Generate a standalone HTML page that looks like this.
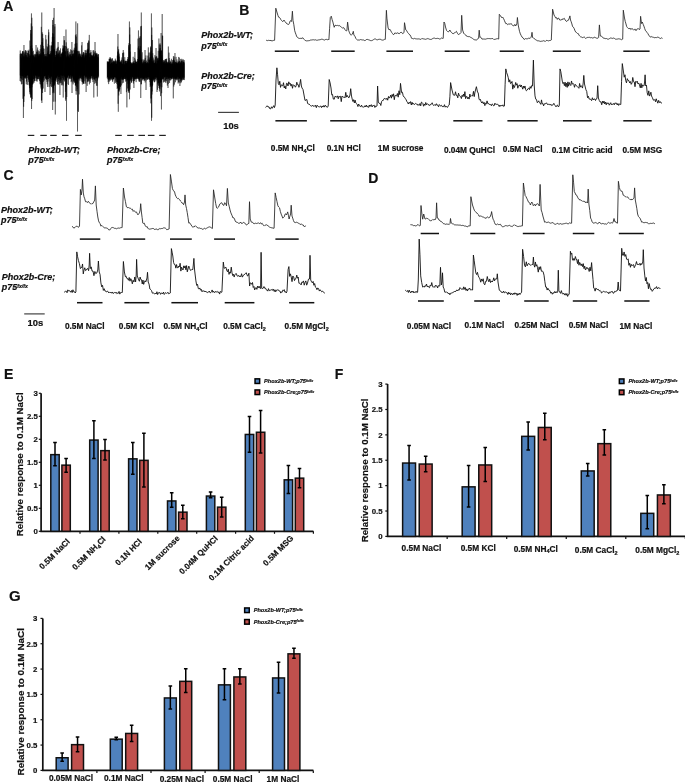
<!DOCTYPE html>
<html><head><meta charset="utf-8"><style>
html,body{margin:0;padding:0;background:#fff;}
svg{display:block;}
text{font-family:"Liberation Sans",sans-serif;font-weight:bold;fill:#111;stroke:#111;stroke-width:0.2px;}
</style></head><body>
<svg width="685" height="783" viewBox="0 0 685 783">
<rect width="685" height="783" fill="#fff"/>
<path d="M266.1 40.3 L266.88 40.37 L267.66 40.64 L268.44 40.34 L269.22 40.44 L270 40.5 L271 40.45 L272 41 L272.87 40.63 L273.73 40.35 L274.6 40.3 L275.8 8.2 L276.6 11 L277.9 15.3 L278.6 17.18 L279.3 17.3 L280 18 L280.83 19.74 L281.67 20.48 L282.5 21.5 L283.25 21.25 L284 20.05 L284.75 21.49 L285.5 22 L286.27 23.14 L287.05 24.06 L287.83 24.12 L288.6 24.5 L289.35 23.48 L290.1 21.06 L290.85 20.65 L291.6 21.5 L292.4 11.2 L293 20.4 L293.85 24.78 L294.7 30.7 L295.4 32.92 L296.1 34.77 L296.8 36.8 L297.8 37.59 L298.8 38.3 L299.53 38.44 L300.27 38.32 L301 38.5 L301.95 38.25 L302.9 37.8 L303.6 38.9 L304.3 39.48 L305 40.4 L305.71 40.62 L306.43 40.87 L307.14 41.04 L307.86 40.6 L308.57 40.71 L309.29 40.6 L310 40.54 L310.71 39.96 L311.43 40 L312.14 39.76 L312.86 39.93 L313.57 39.78 L314.29 39.96 L315 40 L315.71 39.79 L316.42 40.21 L317.13 40.18 L317.84 40.16 L318.55 39.9 L319.26 39.87 L319.97 39.61 L320.68 39.55 L321.39 39.24 L322.11 39.37 L322.82 39.34 L323.53 39.74 L324.24 40.02 L324.95 40.03 L325.66 39.41 L326.37 39.38 L327.08 39.49 L327.79 39.81 L328.5 39.5 L328.9 39.8 L329.6 28.26 L330.3 17.5 L331.3 16.2 L332.1 19.56 L332.9 22.1 L334.2 27.3 L335.02 25.24 L335.85 25.43 L336.68 25.59 L337.5 25.4 L338.32 25.78 L339.15 25.44 L339.98 25.99 L340.8 26.7 L341.58 27.36 L342.36 28.02 L343.14 27.58 L343.92 27.83 L344.7 29.3 L345.43 30.13 L346.17 30.98 L346.9 30.6 L347.6 22.1 L348.7 30.6 L349.57 32.86 L350.43 34.59 L351.3 35.2 L352.05 34.26 L352.8 33 L353.3 31.3 L353.9 35 L354.9 36.26 L355.9 38.5 L356.7 39.3 L357.5 40.2 L358.24 40.02 L358.97 39.98 L359.71 40 L360.44 39.57 L361.18 39.81 L361.91 39.73 L362.65 39.97 L363.38 39.92 L364.12 40.38 L364.85 40.57 L365.59 40.35 L366.32 39.49 L367.06 39.52 L367.79 39.45 L368.53 39.78 L369.26 40.05 L370 40.2 L370.73 40.71 L371.46 40.66 L372.19 40.48 L372.91 40.07 L373.64 39.53 L374.37 39.06 L375.1 39.09 L375.83 39.03 L376.56 39.68 L377.29 39.84 L378.01 39.67 L378.74 39.33 L379.47 39.27 L380.2 39.18 L380.93 39.65 L381.66 39.93 L382.39 40.12 L383.11 39.99 L383.84 39.85 L384.57 39.37 L385.3 39.4 L386.4 10.3 L386.9 18.1 L388.1 28 L389.05 29.91 L390 29.3 L390.82 30.86 L391.65 32.43 L392.48 33.5 L393.3 34.6 L394.1 34.28 L394.9 32.89 L395.7 33.24 L396.5 33.56 L397.3 32.6 L398.04 33.62 L398.79 33.31 L399.53 33.58 L400.27 32.62 L401.01 32.27 L401.76 32.47 L402.5 33.6 L403.25 33.18 L404 32.6 L404.5 22.7 L405.8 30 L406.67 30.62 L407.53 32.34 L408.4 33.3 L409.2 34.38 L410 34.85 L410.8 36.4 L411.6 38.34 L412.4 38.5 L413.1 38.79 L413.8 38.81 L414.5 38.38 L415.2 38.75 L415.9 38.72 L416.6 38.92 L417.3 38.93 L418 39.05 L418.7 38.85 L419.4 39.01 L420.1 39.15 L420.8 39.44 L421.5 38.73 L422.2 38.67 L422.9 38.62 L423.6 38.91 L424.3 39.05 L425 39 L425.7 39.34 L426.4 39.03 L427.1 38.86 L427.8 38.49 L428.5 38.77 L429.2 39.04 L429.9 39.43 L430.6 39.43 L431.3 39.42 L432 38.9 L432.7 38.56 L433.4 38.24 L434.1 38.02 L434.8 38.22 L435.5 38.57 L436.2 38.45 L436.9 38.61 L437.6 38.34 L438.3 38.53 L439 38.47 L439.7 39.12 L440.4 38.86 L441.1 38.4 L441.8 37.89 L442.5 38.4 L443.2 38.4 L444 22 L444.75 23.43 L445.5 27 L446.6 30.6 L447.55 31.49 L448.5 31.9 L449.9 30 L450.7 31.73 L451.5 32.32 L452.3 33.33 L453.1 33.9 L453.93 33.14 L454.75 32.85 L455.57 31.97 L456.4 31.3 L457.4 33.25 L458.4 34.6 L459.27 34.01 L460.13 33.64 L461 32.6 L461.7 15.3 L462.6 30 L463.7 33.3 L464.44 34.1 L465.19 34.78 L465.93 35.04 L466.67 36.25 L467.41 36.43 L468.16 36.69 L468.9 36.5 L469.64 36.68 L470.38 37.23 L471.11 37.49 L471.85 38 L472.59 38.47 L473.32 39.1 L474.06 39.65 L474.8 39.8 L475.8 39.94 L476.8 39.9 L477.7 39.09 L478.6 38 L479.2 30.2 L479.9 37.5 L480.6 37.16 L481.3 37.74 L482 39.2 L482.73 38.99 L483.45 39.04 L484.18 39.16 L484.91 38.99 L485.64 39.17 L486.36 38.86 L487.09 38.86 L487.82 38.43 L488.55 38.59 L489.27 38.64 L490 38.5 L490.75 38.77 L491.49 38.61 L492.24 38.52 L492.98 38.62 L493.73 39.43 L494.47 39.42 L495.22 39.36 L495.96 38.85 L496.71 38.82 L497.45 38.66 L498.2 39 L498.7 39 L499.3 14.3 L500.03 15.39 L500.77 15.99 L501.5 17.5 L502.2 17.75 L502.9 17.24 L503.6 18.67 L504.3 20.24 L505 22 L505.9 23.76 L506.8 23.55 L507.7 24.7 L508.52 24.02 L509.35 23.96 L510.18 24.35 L511 23.4 L511.77 24.63 L512.53 25.31 L513.3 25.73 L514.07 25.8 L514.83 24.36 L515.6 26 L516.9 24 L517.4 17.5 L518.2 25 L519.5 31.3 L520.37 33.9 L521.23 35.61 L522.1 37.2 L523.05 37.84 L524 39.4 L524.75 39.21 L525.5 38.59 L526.25 38.66 L527 39.24 L527.75 38.55 L528.5 38.23 L529.25 38.23 L530 38.5 L530.75 37.66 L531.5 36 L532 32.3 L532.6 37.5 L533.37 37.79 L534.14 38.68 L534.91 39.03 L535.69 39.78 L536.46 40.19 L537.23 40.7 L538 40.9 L538.74 40.83 L539.47 41.09 L540.21 41.31 L540.94 41.53 L541.68 41.17 L542.41 41.13 L543.15 40.66 L543.88 40.85 L544.62 41.12 L545.35 41.44 L546.09 40.57 L546.82 40.38 L547.56 40.59 L548.29 40.92 L549.03 40.63 L549.76 40.5 L550.5 40.5 L551.3 40 L552.6 9.2 L554 15 L554.83 16.38 L555.65 17.91 L556.47 17.59 L557.3 19.4 L558.08 18.03 L558.87 18.3 L559.65 19.99 L560.43 20.08 L561.22 19.59 L562 20 L562.79 18.69 L563.57 18.94 L564.36 18.37 L565.14 19.99 L565.93 20.95 L566.71 21.54 L567.5 20.4 L568.4 20.25 L569.3 18 L569.9 15.9 L570.5 20 L571.2 21.78 L571.9 23.97 L572.6 26.6 L573.42 27.17 L574.24 28.69 L575.06 30.9 L575.88 32.25 L576.7 32.7 L577.46 33.45 L578.23 33.52 L578.99 35.13 L579.75 36.08 L580.51 36.77 L581.27 36.95 L582.04 37.35 L582.8 37.8 L583.52 37.02 L584.24 36.92 L584.96 37.62 L585.68 38.54 L586.4 37.8 L587.12 37.71 L587.84 37.29 L588.56 37.42 L589.28 37.28 L590 37.5 L590.72 37.81 L591.43 37.58 L592.15 37.93 L592.87 38.06 L593.58 37.94 L594.3 37.09 L595.02 37.4 L595.73 37.77 L596.45 38.15 L597.17 38.06 L597.88 38.3 L598.6 37.5 L599.4 24.9 L600.3 36 L601.08 36.12 L601.87 36.54 L602.65 37.14 L603.43 38.23 L604.22 38.24 L605 38.5 L605.72 38.63 L606.44 38.51 L607.16 38.94 L607.88 39.13 L608.6 39.13 L609.33 38.67 L610.05 38.35 L610.77 37.91 L611.49 38.15 L612.21 38.31 L612.93 38.51 L613.65 38.01 L614.37 38.38 L615.09 38.79 L615.81 39.32 L616.53 39.18 L617.25 39.12 L617.97 38.86 L618.7 38.8 L619.42 38.91 L620.14 39.16 L620.86 39.24 L621.58 39.71 L622.3 39.2 L622.7 39.2 L623.3 10.2 L624.5 18 L625.23 21.36 L625.97 23.93 L626.7 26.6 L627.53 27.66 L628.35 28.5 L629.17 28.77 L630 28 L630.75 29.54 L631.5 28.85 L632.25 28.69 L633 29.29 L633.75 30.18 L634.5 29.31 L635.25 29.2 L636 30.7 L636.8 29.25 L637.6 28.83 L638.4 28.58 L639.2 29.61 L640 29 L640.6 16.3 L641.5 23.5 L642.3 22 L643.1 24.2 L643.9 26.1 L644.7 28.56 L645.5 30.7 L646.3 31.32 L647.1 32.62 L647.9 33.59 L648.7 35.15 L649.5 36 L650.29 37.1 L651.07 36.93 L651.86 36.54 L652.64 37.16 L653.43 37.3 L654.21 37.75 L655 37.5 L655.75 37.56 L656.5 37.6 L657.25 37.1 L658 37.46 L658.75 37.41 L659.5 38.02 L660.25 38.46 L661 38.42 L661.75 37.71 L662.5 38.4" fill="none" stroke="#262626" stroke-width="0.85" stroke-linejoin="round"/>
<path d="M265.6 107.5 L266.4 106.48 L267.2 105.75 L268 107 L269 106.85 L270 109 L270.75 108.7 L271.5 106.78 L272.25 108.31 L273 107 L273.73 105.65 L274.47 107.57 L275.2 105 L276 80 L276.9 67.8 L277.6 74.79 L278.3 83.5 L279.04 84.82 L279.78 81.26 L280.52 87.38 L281.26 84.84 L282 85.5 L282.75 85.89 L283.5 82.71 L284.25 87.99 L285 85.99 L285.75 88.94 L286.5 83.31 L287.25 83.46 L288 86 L288.75 81.84 L289.5 84.22 L290.25 83.29 L291 86.1 L291.75 84.24 L292.5 88.29 L293.25 84.7 L294 85.5 L294.7 85.71 L295.4 87.21 L296.1 85.93 L296.8 82.21 L297.5 84.67 L298.2 84.59 L298.9 87.33 L299.6 85.5 L300.6 79.4 L301.4 86 L302 88 L303 89.54 L304 95 L305 100.44 L306 100 L306.83 99.45 L307.67 103.6 L308.5 104 L309.2 104.12 L309.9 105.05 L310.6 105.66 L311.3 106.14 L312 106 L312.73 105.24 L313.45 106.42 L314.18 105.65 L314.91 106.41 L315.64 105.26 L316.36 107.66 L317.09 105.23 L317.82 105.86 L318.55 106.78 L319.27 106.98 L320 106.5 L320.75 105.98 L321.49 107.6 L322.24 105.91 L322.98 107.09 L323.73 105.52 L324.47 107.1 L325.22 105.17 L325.96 105.98 L326.71 107.07 L327.45 107.29 L328.2 106 L329.2 79.5 L330.1 82.83 L331 88 L331.77 94.9 L332.53 94.42 L333.3 99 L334.2 99.3 L335.1 96.16 L336 97 L336.75 97.1 L337.5 95.86 L338.25 98.81 L339 96.14 L339.75 96.8 L340.5 96.32 L341.25 101.63 L342 96 L342.75 96.72 L343.5 97.22 L344.25 96.98 L345 97.85 L345.75 92.34 L346.5 97.13 L347.25 95.39 L348 97 L349 97.77 L350 95 L350.7 88.7 L351.5 96 L352.22 99.16 L352.93 101.49 L353.65 99.65 L354.37 102.91 L355.08 100.06 L355.8 103 L356.51 103.55 L357.22 104.62 L357.93 106.59 L358.64 104.03 L359.35 105.27 L360.06 106.27 L360.77 107.06 L361.48 105.1 L362.19 106.55 L362.9 107.1 L363.61 107.07 L364.32 106.89 L365.03 105.64 L365.74 106.89 L366.45 105.08 L367.16 107.01 L367.87 106.5 L368.58 107.46 L369.29 104.99 L370 106.5 L370.7 105.15 L371.4 104.71 L372.1 106.99 L372.8 105.52 L373.5 105.54 L374.2 105.15 L374.9 107.47 L375.6 105.99 L376.3 106.34 L377 106 L377.6 86 L378.3 102 L379.3 103.5 L380.06 103.25 L380.82 105.5 L381.59 101.55 L382.35 100.5 L383.11 100.61 L383.88 98.96 L384.64 98.19 L385.4 99 L386.17 99.59 L386.93 98.11 L387.7 100.2 L388.47 96.47 L389.23 98.11 L390 97 L390.71 95.1 L391.43 98.16 L392.14 94.47 L392.86 96.47 L393.57 93.81 L394.29 99.69 L395 95.5 L395.8 95.55 L396.6 95.91 L397.4 93.51 L398.2 97.17 L399 90.76 L399.8 94.7 L400.5 83.4 L401.6 92.7 L402.4 92.21 L403.2 95.8 L404 97 L404.73 97.5 L405.45 98.79 L406.17 99.82 L406.9 101.6 L407.64 102.72 L408.37 104.03 L409.11 102.2 L409.85 103.33 L410.58 101.58 L411.32 105.01 L412.05 102.25 L412.79 104.29 L413.53 103.44 L414.26 104.57 L415 104 L415.71 103.41 L416.43 104.07 L417.14 103.98 L417.86 105.44 L418.57 104.76 L419.29 105.31 L420 103.47 L420.71 105.85 L421.43 102.12 L422.14 102.57 L422.86 103.48 L423.57 106.22 L424.29 104.02 L425 105.37 L425.71 102.5 L426.43 104.83 L427.14 103.54 L427.86 104.43 L428.57 104.49 L429.29 105.66 L430 104.5 L430.71 104.92 L431.43 103.54 L432.14 102.75 L432.86 104.53 L433.57 105.45 L434.29 105.27 L435 104.49 L435.71 105.53 L436.43 103.73 L437.14 105.08 L437.86 105.31 L438.57 106.82 L439.29 104.52 L440 105.5 L440.74 105.98 L441.49 105.26 L442.23 106.68 L442.98 106.42 L443.72 106.69 L444.47 104.69 L445.21 107.19 L445.96 106.14 L446.7 107 L447.53 107.4 L448.37 105.66 L449.2 105 L449.9 96.77 L450.6 82.6 L452 90 L453.3 94.9 L454.04 95.21 L454.79 95.23 L455.53 91.78 L456.28 95.37 L457.02 95.28 L457.77 97.83 L458.51 93.13 L459.26 95.61 L460 95.9 L460.7 96.67 L461.4 98.56 L462.1 95.28 L462.8 96.6 L463.5 94 L464.2 96.55 L464.9 91.63 L465.6 98.61 L466.3 96.63 L467 96.5 L467.71 98.84 L468.43 97.37 L469.14 99.08 L469.85 94.05 L470.56 96.74 L471.27 96.15 L471.99 95.37 L472.7 96 L473.47 91.33 L474.23 96.61 L475 92 L476.4 86.7 L477.5 92 L478.25 93.04 L479 99 L479.73 100.15 L480.45 99.4 L481.17 102.03 L481.9 103 L482.64 101.68 L483.37 103.81 L484.11 102.35 L484.85 105.65 L485.58 103.22 L486.32 103.93 L487.05 100.89 L487.79 103.61 L488.53 103.4 L489.26 104.59 L490 104 L490.7 104.72 L491.4 105.74 L492.1 103.86 L492.8 104.47 L493.5 105.79 L494.2 105.62 L494.9 103.18 L495.6 104.3 L496.3 104.29 L497 104.5 L497.74 104.34 L498.48 104.87 L499.22 106.58 L499.96 105.01 L500.7 106.26 L501.44 105.48 L502.18 105.89 L502.92 104.82 L503.66 106.51 L504.4 106 L505.1 84.75 L505.8 68.9 L506.65 72.64 L507.5 75 L508.25 77.63 L509 82.09 L509.75 79.78 L510.5 83.6 L511.25 83.08 L512 81.44 L512.75 89.15 L513.5 84.8 L514.25 87.67 L515 85.7 L515.7 82.43 L516.4 85.13 L517.1 83.68 L517.8 88.24 L518.5 85.73 L519.2 85.88 L519.9 84.75 L520.6 87.01 L521.3 85.01 L522 87 L522.74 89.17 L523.48 86.06 L524.21 88.17 L524.95 85.98 L525.69 89.65 L526.42 90.84 L527.16 90.11 L527.9 88.7 L528.67 88.21 L529.43 89.58 L530.2 86.62 L530.97 88.3 L531.73 85.52 L532.5 86 L533.4 60.1 L534.2 85 L535 95.9 L535.75 99.23 L536.5 99.55 L537.25 102.67 L538 102 L538.7 100.82 L539.4 102.59 L540.1 103.08 L540.8 104.39 L541.5 99.89 L542.2 103.88 L542.9 103.45 L543.6 105.89 L544.3 103.89 L545 103.5 L545.74 103.78 L546.47 102.78 L547.21 104 L547.94 104.84 L548.68 104.02 L549.41 104.28 L550.15 105.14 L550.88 104.18 L551.62 105.55 L552.35 105.13 L553.09 104.89 L553.82 103.3 L554.56 104.58 L555.29 105.73 L556.03 106.87 L556.76 105.54 L557.5 105 L558.4 106.98 L559.3 105.5 L560 68.9 L560.75 71.4 L561.5 76 L562.25 81.07 L563 83.6 L563.7 82.44 L564.4 85.62 L565.1 82.12 L565.8 86.62 L566.5 83.23 L567.2 87.41 L567.9 81.88 L568.6 86.16 L569.3 82.52 L570 84.6 L570.75 85.53 L571.5 80.98 L572.25 84.31 L573 83.35 L573.75 84.28 L574.5 87.29 L575.25 84.32 L576 85.5 L576.73 86.03 L577.45 86.61 L578.17 87.38 L578.9 88.3 L579.62 83.47 L580.35 87.16 L581.07 85.58 L581.8 86.7 L582.5 88.08 L583.2 83 L583.8 75.4 L584.5 84 L585.9 89.7 L586.72 91.44 L587.54 97.73 L588.36 96.22 L589.18 99.09 L590 99 L590.8 99.43 L591.6 100.63 L592.4 97.74 L593.2 99.99 L594 99 L594.75 98.95 L595.5 100.5 L596.25 98.76 L597 98.5 L597.7 85.7 L598.4 98 L599.3 100.51 L600.2 102 L600.95 101.75 L601.71 104.76 L602.46 101.17 L603.22 103.1 L603.97 101.07 L604.72 103.97 L605.48 102.07 L606.23 104.81 L606.98 102.63 L607.74 103.65 L608.49 102.87 L609.25 105.18 L610 104 L610.72 102.69 L611.44 104.77 L612.16 103.98 L612.88 104.56 L613.6 103.47 L614.32 104.79 L615.04 102.79 L615.76 103.41 L616.48 103.17 L617.2 104.96 L617.92 103.46 L618.64 105.42 L619.36 103.92 L620.08 104.32 L620.8 104.5 L621.55 81.69 L622.3 63.6 L623.5 72 L624.23 77.2 L624.97 74.77 L625.7 80.5 L626.49 82.86 L627.28 78.63 L628.06 80.45 L628.85 80.58 L629.64 82.9 L630.42 81.54 L631.21 84.35 L632 83 L632.75 77.46 L633.5 81.59 L634.25 81.93 L635 86.71 L635.75 81.32 L636.5 82.29 L637.25 81.21 L638 84 L638.76 83.06 L639.52 85 L640.29 87.86 L641.05 83.36 L641.81 87.86 L642.58 84.84 L643.34 85.98 L644.1 85.7 L644.6 82 L645.1 74.8 L645.7 86 L646.45 85.15 L647.2 92.8 L647.98 95.36 L648.75 90.85 L649.52 96.09 L650.3 94.5 L650.9 92.2 L651.5 96 L652.4 97.63 L653.3 100 L654.04 100.25 L654.78 99.5 L655.52 101.77 L656.26 98.81 L657 101 L657.82 103.18 L658.63 100.35 L659.45 102.55 L660.27 101.64 L661.08 103.06 L661.9 103" fill="none" stroke="#111" stroke-width="0.9" stroke-linejoin="round"/>
<rect x="274.8" y="50.45" width="24.2" height="1.5" fill="#111"/>
<rect x="331.2" y="50.45" width="23.5" height="1.5" fill="#111"/>
<rect x="386.4" y="50.45" width="26.6" height="1.5" fill="#111"/>
<rect x="444.7" y="50.45" width="24.9" height="1.5" fill="#111"/>
<rect x="499.7" y="50.45" width="24.1" height="1.5" fill="#111"/>
<rect x="552.8" y="50.45" width="28" height="1.5" fill="#111"/>
<rect x="623.3" y="50.45" width="26.3" height="1.5" fill="#111"/>
<rect x="275.4" y="120.05" width="31.5" height="1.5" fill="#111"/>
<rect x="330.2" y="120.05" width="26.6" height="1.5" fill="#111"/>
<rect x="379.3" y="120.05" width="27.6" height="1.5" fill="#111"/>
<rect x="453.3" y="120.05" width="29.2" height="1.5" fill="#111"/>
<rect x="507.4" y="120.05" width="30.3" height="1.5" fill="#111"/>
<rect x="563" y="120.05" width="28.6" height="1.5" fill="#111"/>
<rect x="623.3" y="120.05" width="28.4" height="1.5" fill="#111"/>
<path d="M72.3 226.2 L73.2 227.66 L74.1 227.91 L75 227.5 L75.75 226.54 L76.5 226.29 L77.25 226.3 L78 227.29 L78.75 227.07 L79.5 226 L80.4 189.4 L81.2 195 L82 190 L82.5 179.2 L83.3 193 L84.03 196.81 L84.77 198.8 L85.5 201.7 L86.2 201.66 L86.9 201.93 L87.6 202.53 L88.3 201.27 L89 202.5 L89.74 202.96 L90.48 203.53 L91.22 204.2 L91.96 203.45 L92.7 203.7 L93.7 202 L94.7 200 L95.4 185.9 L96.2 205 L97 211.29 L97.8 217 L98.58 220.86 L99.35 222.74 L100.12 223.48 L100.9 226.2 L101.72 225.43 L102.54 226.28 L103.36 226.96 L104.18 227.7 L105 228 L105.75 227.83 L106.5 228 L107.25 228.13 L108 228.9 L108.7 229.85 L109.4 229.89 L110.1 229.75 L110.8 228.41 L111.5 227.73 L112.2 227.4 L112.9 227.67 L113.6 227.77 L114.3 228.36 L115 228 L115.79 228.52 L116.58 228.77 L117.36 228.34 L118.15 228.23 L118.94 227.83 L119.72 228.22 L120.51 227.75 L121.3 227.6 L122.1 227.6 L123.4 188 L124.5 197 L125.45 201.59 L126.4 206.8 L127.12 207.05 L127.84 207.92 L128.56 207.57 L129.28 208.06 L130 208 L130.8 208.55 L131.6 209.33 L132.4 209.15 L133.2 211.39 L134 210.5 L134.78 211.6 L135.57 212.14 L136.35 211.89 L137.13 213.34 L137.92 214.87 L138.7 213.9 L139.45 212.91 L140.2 210 L140.7 203.7 L141.4 212 L142.1 217.47 L142.8 223.1 L143.53 223.47 L144.26 223.15 L144.99 225.13 L145.71 226.48 L146.44 226.79 L147.17 226.6 L147.9 228.2 L148.61 229 L149.32 229.12 L150.03 229.21 L150.74 228.89 L151.45 228.77 L152.16 228.49 L152.87 228.54 L153.58 228.56 L154.29 229.43 L155 229.3 L155.7 229.23 L156.4 229.01 L157.1 229.31 L157.8 230.12 L158.5 229.13 L159.2 228.87 L159.9 228.42 L160.6 228.77 L161.3 228.55 L162 228.5 L162.7 228.42 L163.4 227.9 L164.1 228.16 L164.8 227.75 L165.5 228.22 L166.2 228.85 L166.9 229.84 L167.6 229.5 L168.3 229.3 L169.1 229 L170.4 174.5 L171.4 181.08 L172.4 188.4 L173.13 190.29 L173.86 190.89 L174.59 192.03 L175.31 194.96 L176.04 196.48 L176.77 197.91 L177.5 198.6 L178.26 198.33 L179.03 199.09 L179.79 199.86 L180.55 201.14 L181.31 201.87 L182.07 203.17 L182.84 203.23 L183.6 204.7 L184.5 202 L185 194.9 L185.7 205 L186.47 208.43 L187.25 212.68 L188.03 217.65 L188.8 223.1 L189.6 222.71 L190.4 224.04 L191.2 224.96 L192 226.5 L192.7 227 L193.4 226.86 L194.1 227 L194.8 225.97 L195.5 225.85 L196.2 226.55 L196.9 227.2 L198.2 228.2 L198.96 227.77 L199.71 228.1 L200.47 228.46 L201.22 228.31 L201.98 229.23 L202.73 229.21 L203.49 228.96 L204.24 228.26 L205 228.5 L205.73 228.94 L206.47 228.29 L207.2 228.01 L207.93 227.29 L208.67 227.14 L209.4 226.85 L210.13 227.1 L210.87 227.41 L211.6 228 L212.4 228.5 L213.5 189.8 L214.8 198 L215.7 203.54 L216.6 207.8 L217.4 208.25 L218.2 207.47 L219 206 L219.9 203.89 L220.8 203.18 L221.7 202.7 L223 205 L223.85 205.42 L224.7 202.7 L225.6 203.52 L226.5 205.8 L227.4 188.4 L228.3 203 L229.17 206.17 L230.03 209.98 L230.9 212.9 L231.95 215.27 L233 218 L233.75 217.74 L234.5 218.88 L235.25 221.12 L236 222.1 L236.8 222.16 L237.6 222.52 L238.4 223.21 L239.2 223.26 L240 223 L240.73 222.05 L241.47 223.48 L242.2 223.42 L242.93 222.88 L243.67 222.22 L244.4 223.07 L245.13 223.29 L245.87 224.6 L246.6 224.89 L247.33 224.55 L248.07 223.5 L248.8 223.5 L249.5 201.7 L250.2 219 L251.3 222.1 L252.03 222.24 L252.76 222.35 L253.49 223.53 L254.21 223.47 L254.94 223.79 L255.67 223.14 L256.4 223.51 L257.13 223.19 L257.86 223.25 L258.59 222.82 L259.31 223.68 L260.04 223.35 L260.77 222.75 L261.5 224 L262.22 223.35 L262.94 224.78 L263.67 225.35 L264.39 226.07 L265.11 225.24 L265.83 224.92 L266.56 224.79 L267.28 225.1 L268 226 L268.8 226.39 L269.6 227.14 L270.4 227.43 L271.2 227.89 L272 227.46 L272.8 228.2 L274.1 228.2 L275.2 192.9 L276.1 197.4 L277 201.61 L277.9 205.8 L278.72 207.03 L279.54 207.81 L280.36 211.46 L281.18 214.13 L282 216 L282.75 218.11 L283.5 217.51 L284.25 216.75 L285 214.22 L285.75 213.83 L286.5 215 L287.7 211.9 L288.4 215.2 L289.1 219 L289.85 216.24 L290.6 214 L291.2 205.2 L292 216 L292.73 218.18 L293.47 220.56 L294.2 222.1 L294.93 222.58 L295.65 222.59 L296.38 222.23 L297.1 222.54 L297.82 222.73 L298.55 223.28 L299.27 223.46 L300 224.5 L300.79 224.27 L301.57 224.17 L302.36 224.82 L303.14 224.88 L303.93 226.16 L304.71 226.97 L305.5 225.6" fill="none" stroke="#222" stroke-width="0.85" stroke-linejoin="round"/>
<path d="M64.1 292.1 L64.84 291.91 L65.57 291.26 L66.31 291.27 L67.05 292.75 L67.79 289.85 L68.53 290.98 L69.26 290.69 L70 291 L70.74 292.22 L71.47 290.53 L72.21 292.54 L72.95 289.78 L73.69 291.75 L74.43 291.71 L75.16 292.99 L75.9 292 L76.8 251.9 L77.6 256.7 L78.4 260.4 L79.4 263.63 L80.4 268.6 L81.12 267.46 L81.84 267.52 L82.56 263.97 L83.28 273.88 L84 270 L84.77 267.78 L85.53 270.58 L86.3 270.15 L87.07 268.76 L87.83 268.52 L88.6 270.7 L89.2 265 L89.6 253.3 L90.3 268.6 L91.2 266.86 L92.1 271.12 L93 271 L93.93 275.69 L94.87 271.47 L95.8 273.7 L96.8 272.97 L97.8 270 L98.4 261 L99.2 272 L100.05 274.49 L100.9 282.9 L101.72 286.86 L102.54 285.31 L103.36 290.38 L104.18 288.7 L105 291.1 L105.74 290.97 L106.47 291.97 L107.21 291.3 L107.95 291.43 L108.68 292.86 L109.42 291.96 L110.15 292.77 L110.89 292.04 L111.63 293.19 L112.36 291.98 L113.1 293.5 L113.85 292.98 L114.59 292.51 L115.34 293.01 L116.08 292.11 L116.83 293.65 L117.57 293.18 L118.32 293.3 L119.06 291.41 L119.81 294.12 L120.55 292.59 L121.3 292.5 L122.3 292.5 L123.4 261.5 L124.4 271.99 L125.4 276.8 L126.16 276.26 L126.93 278.56 L127.69 278.62 L128.45 280.25 L129.21 277.48 L129.97 281.16 L130.74 278.64 L131.5 279.9 L132.32 283.84 L133.14 280.26 L133.96 281.96 L134.78 276.99 L135.6 281.9 L136.2 275 L136.6 259.4 L137.3 276 L138.7 279.9 L139.41 281.28 L140.12 277.05 L140.83 279.51 L141.54 279.69 L142.25 283.97 L142.96 280.05 L143.67 284.39 L144.38 282.22 L145.09 280.75 L145.8 281.9 L147 278 L147.5 272.3 L148.2 282 L149.05 284.13 L149.9 289 L150.72 289.67 L151.54 290.56 L152.36 293.19 L153.18 292.78 L154 293.5 L154.73 294 L155.45 293.04 L156.18 294.06 L156.91 291.74 L157.64 294.57 L158.36 292.83 L159.09 292.6 L159.82 292.53 L160.55 294.34 L161.27 293.09 L162 293 L162.75 293.87 L163.5 292.02 L164.25 294.48 L165 293.34 L165.75 292.64 L166.5 293.38 L167.25 292.93 L168 292.23 L168.75 293.87 L169.5 293.5 L170.3 293 L171.4 248.6 L172.1 252.15 L172.8 256 L173.6 262.56 L174.4 264.5 L175.12 264.67 L175.84 268.15 L176.56 264.55 L177.28 267.52 L178 268 L178.71 266.02 L179.43 266.78 L180.14 263.27 L180.86 271.1 L181.57 267.19 L182.29 268.8 L183 270 L183.71 265.85 L184.43 267.9 L185.14 265.82 L185.86 269.82 L186.57 265.59 L187.29 271.84 L188 269 L188.8 266.07 L189.6 268.47 L190.4 270.3 L191.2 270.24 L192 269.25 L192.8 269.6 L193.3 265 L193.9 258.4 L194.6 270 L195.9 280.9 L196.7 285.39 L197.5 284.28 L198.3 288.58 L199.1 289 L199.84 287.95 L200.57 290.22 L201.31 289.33 L202.05 291.79 L202.79 290.65 L203.53 291.02 L204.26 290.93 L205 292 L205.71 291.11 L206.43 292.08 L207.14 292.76 L207.86 292.17 L208.57 292.04 L209.29 291.09 L210 292.71 L210.71 292.7 L211.43 291.61 L212.14 289.93 L212.86 292.35 L213.57 291.19 L214.29 292.38 L215 292.5 L215.77 291.29 L216.53 292.16 L217.3 291.42 L218.07 292.63 L218.83 291.92 L219.6 294.08 L220.37 291.41 L221.13 292.3 L221.9 292.1 L222.6 276.96 L223.3 262.1 L224.15 268.26 L225 268 L225.9 267.16 L226.8 270.7 L227.54 271.8 L228.29 269.13 L229.03 274.38 L229.77 271.95 L230.51 273.19 L231.26 267.14 L232 272.7 L232.73 275.58 L233.45 274.26 L234.18 277.05 L234.91 274.43 L235.64 273.95 L236.36 273.58 L237.09 275.89 L237.82 276.19 L238.55 275.43 L239.27 276.78 L240 275.8 L240.8 276.8 L241.6 273.7 L242.4 277.13 L243.2 275.53 L244 275 L244.73 274.05 L245.47 273.57 L246.2 272.7 L247.5 276 L248.2 275.59 L248.9 273.18 L249.6 286.02 L250.3 282.9 L251.03 283.06 L251.76 284.33 L252.49 282.51 L253.21 287.48 L253.94 286.43 L254.67 289.94 L255.4 288 L256.14 287.42 L256.89 289.37 L257.63 286.12 L258.37 287.73 L259.11 286.21 L259.86 288.15 L260.6 288.5 L261.1 252.3 L261.7 288 L262.45 288.9 L263.21 287.97 L263.96 286.56 L264.72 288.27 L265.47 288.07 L266.23 289.71 L266.98 290.01 L267.74 291.13 L268.49 288.65 L269.25 290.62 L270 290.5 L270.71 290.06 L271.43 289.81 L272.14 289.18 L272.86 290.53 L273.57 289.25 L274.29 291.52 L275 289.78 L275.71 291.82 L276.43 290.12 L277.14 290.44 L277.86 289.52 L278.57 290.56 L279.29 290.85 L280 291 L280.7 293.12 L281.4 291.95 L282.1 292.28 L282.8 290.1 L283.5 290.55 L284.2 289.61 L284.9 292.14 L285.6 291.75 L286.3 292.94 L287 291.1 L288.1 269.6 L288.88 266.59 L289.65 276.38 L290.43 273.84 L291.2 276.8 L292.02 281.65 L292.84 275.97 L293.66 277.11 L294.48 280.62 L295.3 278.8 L296.03 278.42 L296.76 275.07 L297.49 278.22 L298.21 277.08 L298.94 283.28 L299.67 283.15 L300.4 284 L301.17 284.92 L301.93 281.94 L302.7 282.42 L303.47 280.92 L304.23 285.17 L305 282.5 L305.83 280.9 L306.67 285.18 L307.5 283 L308.5 279.1 L309.5 279 L310 255.3 L310.7 280 L311.6 281.9 L312.36 282.87 L313.12 281.42 L313.89 285.26 L314.65 283.53 L315.41 287.12 L316.18 287.78 L316.94 289.7 L317.7 288 L318.52 288.42 L319.35 291.07 L320.18 289.75 L321 291 L321.78 291.79 L322.56 291.08 L323.34 292.15 L324.12 292.81 L324.9 293.1" fill="none" stroke="#111" stroke-width="0.9" stroke-linejoin="round"/>
<rect x="79.8" y="238.35" width="20.5" height="1.5" fill="#111"/>
<rect x="123.4" y="238.35" width="21.8" height="1.5" fill="#111"/>
<rect x="170" y="238.35" width="21.8" height="1.5" fill="#111"/>
<rect x="214.1" y="238.35" width="20.9" height="1.5" fill="#111"/>
<rect x="275.4" y="238.35" width="23.3" height="1.5" fill="#111"/>
<rect x="77" y="301.95" width="25.5" height="1.5" fill="#111"/>
<rect x="124.4" y="301.95" width="24.9" height="1.5" fill="#111"/>
<rect x="171.4" y="301.95" width="26.6" height="1.5" fill="#111"/>
<rect x="224.7" y="301.95" width="29.7" height="1.5" fill="#111"/>
<rect x="289.1" y="301.95" width="25.2" height="1.5" fill="#111"/>
<path d="M410.4 224.7 L411.17 224.75 L411.93 224.82 L412.7 225.05 L413.47 225.64 L414.23 225.55 L415 225.5 L415.76 226.01 L416.51 225.64 L417.27 225.07 L418.03 224.38 L418.79 225.43 L419.54 225.77 L420.3 225.5 L421 205.5 L422 215 L422.7 219.2 L423.7 214 L425 219 L425.71 218.85 L426.43 218.29 L427.14 218.53 L427.86 218.56 L428.57 219.32 L429.29 220.03 L430 220.2 L430.71 221.17 L431.43 220.37 L432.14 220.16 L432.86 219.38 L433.57 219.79 L434.29 219.45 L435 220 L436 218 L436.6 202.8 L437.3 218 L438.15 218.23 L439 220.2 L439.77 220.24 L440.55 221.46 L441.32 221.56 L442.1 222.18 L442.88 223 L443.65 223.83 L444.43 223.82 L445.2 224.3 L446 224.23 L446.8 223.98 L447.6 224.21 L448.4 224.23 L449.2 224.5 L450 223.5 L450.5 218.5 L451.2 223 L451.96 223.42 L452.72 223.92 L453.48 224.01 L454.24 224.6 L455 225.3 L455.71 224.78 L456.43 224.98 L457.14 224.86 L457.86 225.09 L458.57 225.1 L459.29 225 L460 225.5 L460.75 225.09 L461.49 225.56 L462.24 225.31 L462.98 225.61 L463.73 225.58 L464.48 226.04 L465.22 225.95 L465.97 226.28 L466.72 226.53 L467.46 226.91 L468.21 225.99 L468.95 225.69 L469.7 225.9 L470.2 225.9 L470.9 196.7 L471.7 201.01 L472.5 205 L473.8 208.9 L474.56 210.73 L475.32 211.41 L476.09 212.5 L476.85 212.86 L477.61 213.9 L478.38 214.59 L479.14 216.29 L479.9 216.1 L480.66 216.01 L481.42 216.25 L482.19 216.63 L482.95 217.24 L483.71 217.15 L484.48 217.71 L485.24 217.92 L486 218.5 L486.8 217.27 L487.6 216.94 L488.4 217.71 L489.2 217.63 L490 217 L491.2 214 L491.6 211.6 L492.3 216 L493.05 219.13 L493.8 220.42 L494.55 222.72 L495.3 224.3 L496.05 224.79 L496.79 224.57 L497.54 223.98 L498.28 224.52 L499.03 224.62 L499.78 224.46 L500.52 224.32 L501.27 225.71 L502.02 226.38 L502.76 226.81 L503.51 226.63 L504.25 226.29 L505 225.9 L505.71 225.57 L506.43 225.73 L507.14 225.74 L507.86 226.17 L508.57 225.62 L509.29 225.32 L510 225.6 L510.71 226.2 L511.43 226.34 L512.14 226.7 L512.86 225.99 L513.57 225.23 L514.29 224.73 L515 225.5 L515.76 225.5 L516.51 225.95 L517.27 226.46 L518.02 226.26 L518.78 226.55 L519.53 226.22 L520.29 226.25 L521.04 225.91 L521.8 225.9 L522.4 225.9 L523.4 183 L524.3 189.61 L525.2 195.7 L525.98 196.54 L526.75 198.27 L527.52 199.76 L528.3 201.8 L529.01 202.13 L529.72 203.27 L530.43 205 L531.14 203.08 L531.85 202.04 L532.56 203.29 L533.27 205.69 L533.98 204.83 L534.69 204.43 L535.4 205.9 L536.18 204.17 L536.96 204.37 L537.74 203.63 L538.52 204.51 L539.3 206 L540.1 184.4 L541.2 210 L542.05 212.47 L542.9 216.07 L543.75 219 L544.6 222.2 L545.37 221.92 L546.14 221.99 L546.91 222.81 L547.69 222.23 L548.46 222.09 L549.23 222.49 L550 223.2 L550.71 223.16 L551.43 222.94 L552.14 222.86 L552.86 222.43 L553.57 223.41 L554.29 223.88 L555 224.4 L555.71 224.25 L556.43 224.06 L557.14 223.29 L557.86 223.47 L558.57 224 L559.29 224.16 L560 223.5 L560.74 223.69 L561.49 224.11 L562.23 224 L562.97 224.14 L563.71 223.7 L564.46 223.61 L565.2 223.33 L565.94 223.32 L566.69 223.03 L567.43 223.81 L568.17 223.88 L568.91 223.4 L569.66 222.81 L570.4 223.2 L571.6 223.2 L572.8 174.8 L573.55 182.18 L574.3 191.6 L575.12 193.02 L575.94 194.98 L576.76 195.34 L577.58 197.21 L578.4 198.7 L579.11 199.04 L579.82 200.16 L580.53 199.92 L581.24 200.51 L581.95 200.59 L582.66 201.39 L583.37 201.25 L584.08 201.64 L584.79 201.29 L585.5 202.8 L586.2 202.11 L586.9 202.2 L587.6 203 L588.2 189.1 L588.9 204 L589.75 210.44 L590.6 218.1 L591.38 219.52 L592.15 221.91 L592.93 222.82 L593.7 223.2 L594.41 222.97 L595.11 222.33 L595.82 222.81 L596.53 223.01 L597.23 223.55 L597.94 223.77 L598.64 223.15 L599.35 222 L600.06 222.98 L600.76 223.57 L601.47 223.83 L602.17 223.43 L602.88 223.65 L603.59 223.63 L604.29 224.15 L605 223.5 L605.73 223.99 L606.45 224.22 L607.18 223.54 L607.91 222.91 L608.64 222.33 L609.36 223.02 L610.09 223.03 L610.82 223.03 L611.55 222.65 L612.27 223.02 L613 222.5 L614 218.5 L615 222 L615.8 221.77 L616.6 223 L617.5 223.2 L618.4 181.3 L619.35 187.54 L620.3 190.5 L621.03 191.34 L621.76 190.88 L622.49 192.25 L623.21 195.23 L623.94 195.41 L624.67 196.09 L625.4 196.7 L626.11 196.62 L626.82 197.33 L627.53 196.84 L628.24 197.88 L628.95 198.57 L629.66 199.34 L630.37 199.44 L631.08 200.05 L631.79 198.96 L632.5 199.7 L633.25 198.88 L634 198 L634.6 187.9 L635.3 200 L636.07 204.11 L636.83 208.59 L637.6 214 L638.42 216.43 L639.24 217.4 L640.06 218.18 L640.88 220.18 L641.7 222.2 L642.49 221.99 L643.28 222.6 L644.06 222.4 L644.85 222.81 L645.64 222.4 L646.42 222.57 L647.21 222.59 L648 223.2 L648.7 223.93 L649.4 223.69 L650.1 223.53 L650.8 223.27 L651.5 223.46 L652.2 223.33 L652.9 223.26 L653.6 223.04 L654.3 223.61 L655 223.2" fill="none" stroke="#222" stroke-width="0.85" stroke-linejoin="round"/>
<path d="M405.3 290.2 L406.08 290.73 L406.87 291.53 L407.65 290.46 L408.43 292.49 L409.22 290.12 L410 292 L410.76 292.94 L411.52 291.07 L412.28 292.21 L413.04 291 L413.8 292.93 L414.56 292.12 L415.32 292.52 L416.08 291.19 L416.84 292.59 L417.6 292.2 L418.3 280 L419.2 239.1 L419.95 254.83 L420.7 275.9 L421.7 282.52 L422.7 287.1 L423.46 286.53 L424.21 287.19 L424.97 285.61 L425.73 286.26 L426.49 284.02 L427.24 286.8 L428 286 L428.75 287.19 L429.5 287.7 L430.25 285.02 L431 285.82 L431.75 282.55 L432.5 286.35 L433.25 287.31 L434 286.5 L434.73 287.35 L435.45 285.23 L436.18 285.99 L436.9 285.78 L437.62 288.02 L438.35 285.63 L439.07 285.97 L439.8 286 L440.5 267.3 L441.3 285 L442 282 L442.5 272.8 L443.2 287 L444 288.79 L444.8 292.2 L445.52 292.25 L446.24 291.73 L446.97 292.67 L447.69 292.56 L448.41 293.87 L449.13 293.08 L449.86 294.77 L450.58 293.25 L451.3 293.2 L452.08 292.58 L452.87 292.76 L453.65 292.19 L454.43 291.13 L455.22 291.93 L456 291 L456.79 289.86 L457.57 290.97 L458.36 289.71 L459.14 290.22 L459.93 287.56 L460.71 288.59 L461.5 289.2 L462.24 288.54 L462.99 289.61 L463.73 286.84 L464.47 289.3 L465.21 287.45 L465.96 290.43 L466.7 288.87 L467.44 291.02 L468.19 288.99 L468.93 289.18 L469.67 288.04 L470.41 290.01 L471.16 289.79 L471.9 289.8 L472.6 290 L473.4 255 L474.2 260.72 L475 266.98 L475.8 272.8 L476.62 274.57 L477.44 272.31 L478.26 275.94 L479.08 277.46 L479.9 278.9 L480.72 282.19 L481.54 278.96 L482.36 281.18 L483.18 278.75 L484 284 L484.82 284.8 L485.64 281.32 L486.46 281.3 L487.28 276.51 L488.1 280 L488.92 281.84 L489.74 278.95 L490.56 282.6 L491.38 280.93 L492.2 282 L492.98 280.72 L493.75 277.83 L494.52 280.88 L495.3 279 L496.05 278.74 L496.8 279 L497.3 273.8 L498 282 L499.3 290.2 L500.01 290.77 L500.73 291.02 L501.44 292.36 L502.15 292.32 L502.86 292.7 L503.57 291.04 L504.29 292.83 L505 292.5 L505.7 291.87 L506.4 292.79 L507.1 292.76 L507.8 294.51 L508.5 292.24 L509.2 293.95 L509.9 292.78 L510.6 294.92 L511.3 293.54 L512 293.5 L512.73 294.82 L513.47 293.15 L514.2 294.35 L514.93 292.76 L515.67 294.14 L516.4 293.34 L517.13 295.43 L517.87 293.56 L518.6 294.74 L519.33 293.18 L520.07 294.46 L520.8 293.2 L521.6 292.2 L522.6 249.3 L523.6 256.54 L524.6 265.7 L525.45 266.85 L526.3 261.8 L527.15 265.83 L528 264 L528.8 263.34 L529.6 264.61 L530.4 265.12 L531.2 265.23 L532 264.35 L532.8 264.6 L533.4 257.1 L534 265 L534.7 267.16 L535.4 261.97 L536.1 266.17 L536.8 264.67 L537.5 267.7 L538.28 272.13 L539.07 266.84 L539.85 269.56 L540.63 266.65 L541.42 271.28 L542.2 270.8 L543.2 272 L544.03 275.19 L544.87 281.69 L545.7 287.1 L546.43 286.99 L547.16 290.05 L547.89 288.19 L548.61 289.83 L549.34 290 L550.07 291.17 L550.8 293.2 L551.57 292.26 L552.33 294.22 L553.1 292.71 L553.87 293.28 L554.63 291.51 L555.4 292.97 L556.17 291.59 L556.93 292.78 L557.7 292 L558.3 270.2 L558.9 291 L559.72 292.01 L560.54 293.36 L561.36 290.61 L562.18 293.62 L563 294 L563.77 293.18 L564.55 295.07 L565.33 293.58 L566.1 295.27 L566.88 293.51 L567.65 296.4 L568.43 294.47 L569.2 294.3 L570.4 251.3 L571.1 254.29 L571.8 253.23 L572.5 259.91 L573.2 260.5 L573.92 258.39 L574.64 260.29 L575.36 256.52 L576.08 258.79 L576.8 260.09 L577.52 263.63 L578.24 259.45 L578.96 265.21 L579.68 262.42 L580.4 263.6 L581.12 265.69 L581.84 263.9 L582.56 266.64 L583.28 263.64 L584 268.58 L584.72 266.14 L585.44 269.98 L586.16 268.92 L586.88 267.23 L587.6 268.7 L588.4 268.46 L589.2 271.51 L590 267.21 L590.8 270.8 L591.6 262.6 L592.3 272 L593 279.54 L593.7 288.1 L594.41 288.52 L595.12 291.13 L595.83 288.08 L596.54 288.56 L597.25 289.72 L597.96 288.98 L598.67 289.8 L599.38 290.95 L600.09 290.41 L600.8 291.2 L601.52 293.01 L602.25 292.33 L602.97 291.69 L603.69 291.33 L604.42 291.8 L605.14 291.66 L605.86 292.34 L606.59 291.82 L607.31 292.49 L608.04 292.16 L608.76 293.75 L609.48 292.12 L610.21 292.82 L610.93 291.54 L611.65 291.68 L612.38 291.44 L613.1 293.2 L613.83 293.11 L614.57 291.36 L615.3 291.73 L616.03 290.78 L616.77 291.18 L617.5 290 L618.2 282 L618.9 290 L619.7 290.63 L620.5 291 L621.7 248.3 L622.5 255.13 L623.3 255.4 L624.12 251.96 L624.94 256.42 L625.76 254.55 L626.58 259.22 L627.4 259.5 L628.16 258.85 L628.92 265.3 L629.69 263.18 L630.45 267.28 L631.21 264.32 L631.98 265.75 L632.74 264.95 L633.5 264.6 L634.25 267.69 L634.99 266.15 L635.74 264.43 L636.48 261.56 L637.23 264.53 L637.97 264.43 L638.72 264.52 L639.46 263.54 L640.21 265.3 L640.95 263.39 L641.7 264.6 L642.8 262 L643.3 249.7 L644 268 L644.8 275.9 L645.53 281.03 L646.26 277.49 L646.99 283.78 L647.71 282.4 L648.44 288.78 L649.17 283.55 L649.9 287.1 L650.67 289.55 L651.45 289.26 L652.23 291.34 L653 290.2 L654 288.62 L655 288 L655.79 288.15 L656.57 286.58 L657.36 288.93 L658.14 287.75 L658.93 287.74 L659.71 288.21 L660.5 289" fill="none" stroke="#111" stroke-width="0.9" stroke-linejoin="round"/>
<rect x="420.7" y="232.75" width="18.3" height="1.5" fill="#111"/>
<rect x="470.3" y="232.75" width="25" height="1.5" fill="#111"/>
<rect x="522.8" y="232.75" width="21.8" height="1.5" fill="#111"/>
<rect x="572.8" y="232.75" width="21.5" height="1.5" fill="#111"/>
<rect x="618.8" y="232.75" width="25" height="1.5" fill="#111"/>
<rect x="418" y="300.25" width="25.8" height="1.5" fill="#111"/>
<rect x="474.2" y="300.25" width="25.8" height="1.5" fill="#111"/>
<rect x="524.2" y="300.25" width="24.5" height="1.5" fill="#111"/>
<rect x="572.8" y="300.25" width="24.4" height="1.5" fill="#111"/>
<rect x="624.3" y="300.25" width="25.2" height="1.5" fill="#111"/>
<path d="M20 54 L20.11 81.05 L20.22 50.47 L20.33 75.48 L20.44 55.63 L20.55 78.04 L20.66 53.55 L20.77 81.64 L20.88 54.06 L20.99 75.58 L21.1 53.32 L21.21 78.82 L21.32 57.88 L21.43 84.33 L21.54 54.01 L21.65 75.99 L21.76 53.74 L21.87 78.42 L21.98 57.46 L22.09 83.94 L22.2 54.25 L22.31 80.1 L22.42 51.97 L22.53 75.92 L22.64 51.04 L22.75 76.19 L22.86 50.97 L22.97 98.81 L23.08 53.21 L23.19 77.09 L23.3 56.68 L23.41 118 L23.52 55.69 L23.63 106.72 L23.74 51.46 L23.85 101.99 L23.96 45 L24.07 75.18 L24.18 57.21 L24.29 96.31 L24.4 54.37 L24.51 77.54 L24.62 56.23 L24.73 78.38 L24.84 53.19 L24.95 78.23 L25.06 52.01 L25.17 77.02 L25.28 50.59 L25.39 77.37 L25.5 50.09 L25.61 78.6 L25.72 55.23 L25.83 75.7 L25.94 55.01 L26.05 77.86 L26.16 51.17 L26.27 84.32 L26.38 57.24 L26.49 81.56 L26.6 55.44 L26.71 75.64 L26.82 52.68 L26.93 78.18 L27.04 50.39 L27.15 75.38 L27.26 57.04 L27.37 84.87 L27.48 53.18 L27.59 75.03 L27.7 58.06 L27.81 75.23 L27.92 56.74 L28.03 77.94 L28.14 53.12 L28.25 76.26 L28.36 50.82 L28.47 79.68 L28.58 50.82 L28.69 81.82 L28.8 54.42 L28.91 78.89 L29.02 49.7 L29.13 84.84 L29.24 54.16 L29.35 85.65 L29.46 57.96 L29.57 88.19 L29.68 55.74 L29.79 91.96 L29.9 40.53 L30.01 94.34 L30.12 55.77 L30.23 93.5 L30.34 55.54 L30.45 87.96 L30.56 30 L30.67 97.28 L30.78 45.96 L30.89 97.9 L31 33.61 L31.11 95.19 L31.22 23.47 L31.33 97.12 L31.44 13.4 L31.55 109 L31.66 45.31 L31.77 100.85 L31.88 17.77 L31.99 87.28 L32.1 26.33 L32.21 99 L32.32 48.38 L32.43 84.14 L32.54 51.83 L32.65 84.67 L32.76 55.63 L32.87 79.25 L32.98 55.43 L33.09 83.77 L33.2 54.81 L33.31 82.55 L33.42 50.85 L33.53 75.76 L33.64 55.98 L33.75 78.79 L33.86 56.37 L33.97 79.01 L34.08 54.47 L34.19 82.59 L34.3 57.3 L34.41 80.94 L34.52 57.69 L34.63 80.78 L34.74 54.52 L34.85 77.96 L34.96 56.56 L35.07 78.26 L35.18 53.76 L35.29 76.44 L35.4 54.43 L35.51 75.03 L35.62 55.11 L35.73 75.63 L35.84 57.81 L35.95 81.05 L36.06 45 L36.17 78.68 L36.28 57.38 L36.39 76.01 L36.5 54.36 L36.61 77.68 L36.72 51.9 L36.83 80.64 L36.94 51.53 L37.05 81.75 L37.16 49.65 L37.27 78.93 L37.38 54.36 L37.49 75.49 L37.6 47.55 L37.71 78.88 L37.82 54.12 L37.93 79.14 L38.04 52.55 L38.15 76.61 L38.26 56.53 L38.37 77.45 L38.48 50.52 L38.59 78.94 L38.7 55.66 L38.81 75.61 L38.92 54.37 L39.03 79.47 L39.14 54.26 L39.25 76.16 L39.36 55.88 L39.47 81.09 L39.58 51.31 L39.69 79.27 L39.8 53.97 L39.91 76.9 L40.02 54.95 L40.13 83.92 L40.24 49.18 L40.35 84.48 L40.46 53.3 L40.57 81.96 L40.68 44.82 L40.79 79.32 L40.9 54.71 L41.01 88.5 L41.12 54.43 L41.23 86.78 L41.34 26.84 L41.45 100.6 L41.56 48.39 L41.67 100.17 L41.78 12.5 L41.89 103 L42 42.12 L42.11 89.93 L42.22 32.34 L42.33 85.67 L42.44 42.44 L42.55 92.97 L42.66 33.99 L42.77 89.01 L42.88 38.22 L42.99 88.17 L43.1 45.88 L43.21 78.34 L43.32 52.72 L43.43 81.85 L43.54 51.99 L43.65 77.51 L43.76 48.19 L43.87 80.42 L43.98 49.02 L44.09 80.41 L44.2 55.31 L44.31 75.75 L44.42 57.21 L44.53 76.54 L44.64 54.21 L44.75 76.01 L44.86 56.09 L44.97 92 L45.08 54.12 L45.19 75.06 L45.3 56.14 L45.41 78.06 L45.52 56.45 L45.63 76.11 L45.74 34.9 L45.85 79.05 L45.96 56.68 L46.07 78.78 L46.18 39.44 L46.29 79.61 L46.4 53.92 L46.51 78.32 L46.62 56.13 L46.73 79.78 L46.84 57.31 L46.95 81.86 L47.06 46.18 L47.17 84.3 L47.28 56.62 L47.39 78.72 L47.5 47.26 L47.61 86.93 L47.72 52.95 L47.83 78.82 L47.94 51.32 L48.05 78.83 L48.16 43.79 L48.27 76.81 L48.38 35.32 L48.49 75.32 L48.6 29.5 L48.71 79.17 L48.82 32.27 L48.93 81.52 L49.04 54.43 L49.15 86.9 L49.26 54.4 L49.37 76.43 L49.48 54.25 L49.59 77.92 L49.7 54.64 L49.81 78.04 L49.92 45.3 L50.03 95 L50.14 54.93 L50.25 77.76 L50.36 51.23 L50.47 84.13 L50.58 53.7 L50.69 78.9 L50.8 53.13 L50.91 86.26 L51.02 55.4 L51.13 75.81 L51.24 46.23 L51.35 76.54 L51.46 50.5 L51.57 87.12 L51.68 45.59 L51.79 77.23 L51.9 45.21 L52.01 82.02 L52.12 41.84 L52.23 80.08 L52.34 36.87 L52.45 86.4 L52.56 20 L52.67 110 L52.78 33.11 L52.89 93.17 L53 25 L53.11 88.19 L53.22 33.9 L53.33 101.67 L53.44 17.8 L53.55 91.74 L53.66 41.47 L53.77 86.05 L53.88 36.88 L53.99 93.18 L54.1 8 L54.21 84.61 L54.32 49.93 L54.43 85.37 L54.54 49.14 L54.65 81.05 L54.76 26.56 L54.87 83.7 L54.98 24 L55.09 101.65 L55.2 57.13 L55.31 114.5 L55.42 55.08 L55.53 80.6 L55.64 56.94 L55.75 81.19 L55.86 54.91 L55.97 79.16 L56.08 51.23 L56.19 76.82 L56.3 50.84 L56.41 77.96 L56.52 51.68 L56.63 77.79 L56.74 54.07 L56.85 79.71 L56.96 48.69 L57.07 81.97 L57.18 55.53 L57.29 76.06 L57.4 47.76 L57.51 84.13 L57.62 54.27 L57.73 75.38 L57.84 53.1 L57.95 76.97 L58.06 42 L58.17 84.8 L58.28 46.82 L58.39 78.89 L58.5 54.01 L58.61 81.22 L58.72 52.52 L58.83 76.91 L58.94 54.46 L59.05 84.52 L59.16 57.53 L59.27 77 L59.38 52.51 L59.49 79.74 L59.6 50.21 L59.71 82.73 L59.82 50.96 L59.93 95 L60.04 55.22 L60.15 75.48 L60.26 56.55 L60.37 79.31 L60.48 48.39 L60.59 81.33 L60.7 57.21 L60.81 82.9 L60.92 54.03 L61.03 83.3 L61.14 53.86 L61.25 74.94 L61.36 57.38 L61.47 85.22 L61.58 53.97 L61.69 79.67 L61.8 53.41 L61.91 75.75 L62.02 52.73 L62.13 76.26 L62.24 52.27 L62.35 78.03 L62.46 52.4 L62.57 84.62 L62.68 48.48 L62.79 75.5 L62.9 45.38 L63.01 85.56 L63.12 52.76 L63.23 97.5 L63.34 48.8 L63.45 80.19 L63.56 47.65 L63.67 75.22 L63.78 45.88 L63.89 78.92 L64 36 L64.11 75.76 L64.22 40.27 L64.33 77.43 L64.44 40.36 L64.55 81.55 L64.66 46.09 L64.77 76.48 L64.88 51.37 L64.99 80.34 L65.1 50.78 L65.21 80.53 L65.32 45.96 L65.43 91.81 L65.54 55.24 L65.65 100.79 L65.76 51.68 L65.87 99.28 L65.98 29.5 L66.09 80.13 L66.2 42.32 L66.31 86.39 L66.42 57.54 L66.53 120.8 L66.64 46.7 L66.75 97.03 L66.86 56.55 L66.97 84.24 L67.08 56.27 L67.19 77.51 L67.3 51.28 L67.41 77.33 L67.52 48.75 L67.63 77.25 L67.74 54.92 L67.85 78.43 L67.96 50.9 L68.07 75.11 L68.18 48.28 L68.29 75.39 L68.4 56.55 L68.51 84.85 L68.62 56.33 L68.73 75.57 L68.84 53.38 L68.95 75.71 L69.06 54.31 L69.17 79.32 L69.28 58.05 L69.39 77.75 L69.5 55.27 L69.61 78.49 L69.72 51.83 L69.83 77.61 L69.94 57.21 L70.05 78.69 L70.16 54.5 L70.27 75.06 L70.38 54.84 L70.49 76.5 L70.6 49.34 L70.71 78.73 L70.82 53.93 L70.93 74.91 L71.04 56.28 L71.15 82.17 L71.26 56.03 L71.37 78.59 L71.48 50.25 L71.59 81.2 L71.7 56.72 L71.81 76.65 L71.92 42 L72.03 93 L72.14 54.61 L72.25 75.83 L72.36 50.72 L72.47 77.62 L72.58 54.07 L72.69 76.23 L72.8 55.51 L72.91 82.47 L73.02 53.8 L73.13 84.4 L73.24 49.75 L73.35 78.68 L73.46 53.65 L73.57 81.43 L73.68 54.4 L73.79 79.48 L73.9 56.29 L74.01 79.45 L74.12 53.22 L74.23 81.25 L74.34 47.69 L74.45 80.6 L74.56 50.84 L74.67 82.2 L74.78 49.78 L74.89 82.85 L75 43.79 L75.11 82.76 L75.22 48.57 L75.33 85.42 L75.44 35.25 L75.55 85.27 L75.66 43.55 L75.77 85.52 L75.88 21.5 L75.99 90.94 L76.1 34.26 L76.21 94.64 L76.32 36.6 L76.43 84.16 L76.54 46.54 L76.65 86.76 L76.76 43.19 L76.87 82.78 L76.98 50.69 L77.09 91.38 L77.2 51.2 L77.31 89.1 L77.42 51.1 L77.53 131.5 L77.64 23.3 L77.75 83.82 L77.86 57.32 L77.97 110.78 L78.08 54.42 L78.19 78.83 L78.3 56.05 L78.41 112 L78.52 50.87 L78.63 78.69 L78.74 54.27 L78.85 79.52 L78.96 52.03 L79.07 94.42 L79.18 50.91 L79.29 77.74 L79.4 53.62 L79.51 78.5 L79.62 54.17 L79.73 75.74 L79.84 57.59 L79.95 80.68 L80.06 53.48 L80.17 78.1 L80.28 56.21 L80.39 78.12 L80.5 56.31 L80.61 77.26 L80.72 54.25 L80.83 78.6 L80.94 55.09 L81.05 76.89 L81.16 57.76 L81.27 75.48 L81.38 57.09 L81.49 78.68 L81.6 45.39 L81.71 81.59 L81.82 57.32 L81.93 79.53 L82.04 42 L82.15 77.04 L82.26 56.37 L82.37 84.49 L82.48 54.68 L82.59 82.01 L82.7 54.47 L82.81 79 L82.92 55.33 L83.03 82.39 L83.14 52.71 L83.25 82.93 L83.36 51.99 L83.47 83.44 L83.58 53.76 L83.69 83.77 L83.8 52.32 L83.91 83.9 L84.02 57.45 L84.13 75.33 L84.24 54.54 L84.35 76.02 L84.46 56.5 L84.57 74.9 L84.68 58 L84.79 81.3 L84.9 52.95 L85.01 78.46 L85.12 49.96 L85.23 77.17 L85.34 55.12 L85.45 83.6 L85.56 53.21 L85.67 76.3 L85.78 50.53 L85.89 76.84 L86 55.35 L86.11 92 L86.22 56.4 L86.33 78.23 L86.44 53.29 L86.55 76.92 L86.66 53.12 L86.77 76.18 L86.88 50.29 L86.99 79.16 L87.1 55.15 L87.21 85.82 L87.32 49.14 L87.43 78.59 L87.54 50.61 L87.65 81.51 L87.76 43.09 L87.87 82.04 L87.98 42.65 L88.09 76.14 L88.2 48.55 L88.31 81.29 L88.42 49.42 L88.53 80.48 L88.64 40.38 L88.75 78.57 L88.86 41.39 L88.97 77.86 L89.08 53.24 L89.19 79.17 L89.3 34.9 L89.41 84.35 L89.52 53.3 L89.63 77.2 L89.74 57.14 L89.85 81.38 L89.96 57.36 L90.07 78.85 L90.18 54.38 L90.29 82.86 L90.4 52.75 L90.51 77.77 L90.62 53.35 L90.73 78.51 L90.84 50.1 L90.95 79.42 L91.06 52.09 L91.17 76.37 L91.28 54.94 L91.39 75.94 L91.5 56.21 L91.61 78.21 L91.72 55.16 L91.83 76.09 L91.94 56.91 L92.05 76.5 L92.16 55.72 L92.27 75.33 L92.38 56.28 L92.49 78.43 L92.6 55.43 L92.71 79.88 L92.82 56.13 L92.93 82.07 L93.04 50.4 L93.15 78.54 L93.26 54.62 L93.37 76.63 L93.48 54.32 L93.59 76.64 L93.7 50.27 L93.81 97.5 L93.92 52.3 L94.03 78.84 L94.14 57.05 L94.25 79.01 L94.36 57.43 L94.47 79.71 L94.58 55.86 L94.69 83.8 L94.8 52.7 L94.91 79.25 L95.02 42 L95.13 75.88 L95.24 51.08 L95.35 81.36 L95.46 53.71 L95.57 77.58 L95.68 54.56 L95.79 83.07 L95.9 55.14 L96.01 78.09 L96.12 52.77 L96.23 78.53 L96.34 53.33 L96.45 85.61 L96.56 53.88 L96.67 77.7 L96.78 55.02 L96.89 77.41 L97 56.66 L97.11 85.8 L97.22 54.94 L97.33 96.6 L97.44 53.57 L97.55 80.43 L97.66 56.71 L97.77 78.67 L97.88 58.04 L97.99 75.39 L98.1 57.05 L98.21 77.11 L98.32 54.24 L98.43 76.28 L98.54 54.31 L98.65 77.84" fill="none" stroke="#000" stroke-width="0.4"/>
<path d="M107.2 61.16 L107.31 78.31 L107.42 62.43 L107.53 76.89 L107.64 61.91 L107.75 77.1 L107.86 61.35 L107.97 79.32 L108.08 61.75 L108.19 82.19 L108.3 61.9 L108.41 78.49 L108.52 61.77 L108.63 84.1 L108.74 63.09 L108.85 80.34 L108.96 61.92 L109.07 79.01 L109.18 58.71 L109.29 79.61 L109.4 59.06 L109.51 81.59 L109.62 61.73 L109.73 79.42 L109.84 58.97 L109.95 77.91 L110.06 57 L110.17 77.16 L110.28 57.82 L110.39 79.44 L110.5 64.18 L110.61 80.62 L110.72 58.73 L110.83 78.1 L110.94 63.53 L111.05 79.15 L111.16 58.94 L111.27 78.12 L111.38 59.9 L111.49 79.17 L111.6 62.88 L111.71 77.56 L111.82 62.4 L111.93 79.95 L112.04 58.17 L112.15 76.62 L112.26 63.79 L112.37 77.6 L112.48 58.55 L112.59 81.86 L112.7 62.37 L112.81 80.52 L112.92 61.87 L113.03 79.21 L113.14 63.53 L113.25 78.87 L113.36 61.74 L113.47 79.14 L113.58 61.14 L113.69 79.29 L113.8 60.35 L113.91 78.78 L114.02 61.85 L114.13 77.09 L114.24 60.88 L114.35 83.73 L114.46 61.64 L114.57 77.27 L114.68 62.47 L114.79 77 L114.9 64.54 L115.01 77.27 L115.12 61.34 L115.23 77.58 L115.34 58.65 L115.45 77.1 L115.56 60.27 L115.67 82.92 L115.78 61.54 L115.89 80.6 L116 63.94 L116.11 82.27 L116.22 61.56 L116.33 78.11 L116.44 63.93 L116.55 78.61 L116.66 63.49 L116.77 83.93 L116.88 61.09 L116.99 82.02 L117.1 59.99 L117.21 88.95 L117.32 55.65 L117.43 81.98 L117.54 51.63 L117.65 87.9 L117.76 46.55 L117.87 85.05 L117.98 34 L118.09 103.75 L118.2 55.22 L118.31 111.8 L118.42 50.53 L118.53 91.02 L118.64 49.17 L118.75 95.44 L118.86 52.65 L118.97 91.72 L119.08 54.2 L119.19 91.28 L119.3 56.63 L119.41 89.75 L119.52 59.88 L119.63 86.22 L119.74 62.32 L119.85 89.31 L119.96 61.78 L120.07 86.63 L120.18 61.53 L120.29 85.92 L120.4 62.38 L120.51 87.1 L120.62 62.84 L120.73 78.57 L120.84 60.58 L120.95 94 L121.06 61.91 L121.17 78.72 L121.28 61.48 L121.39 77.17 L121.5 59.77 L121.61 85.39 L121.72 63.7 L121.83 79.88 L121.94 57.44 L122.05 78.8 L122.16 63.5 L122.27 79.05 L122.38 63.64 L122.49 83.32 L122.6 53.17 L122.71 79.45 L122.82 64.47 L122.93 80.02 L123.04 52.74 L123.15 77.69 L123.26 50 L123.37 79.13 L123.48 59.83 L123.59 82.73 L123.7 52.54 L123.81 79.37 L123.92 59.81 L124.03 79.01 L124.14 61.65 L124.25 77.67 L124.36 64.28 L124.47 78.85 L124.58 64.53 L124.69 76.51 L124.8 57.16 L124.91 79.13 L125.02 61.21 L125.13 77.65 L125.24 61.7 L125.35 79.18 L125.46 61 L125.57 81.59 L125.68 60.8 L125.79 79.12 L125.9 63.89 L126.01 78.51 L126.12 60.67 L126.23 77.48 L126.34 63.13 L126.45 92.18 L126.56 63.27 L126.67 81.22 L126.78 61 L126.89 107.4 L127 61.92 L127.11 78.65 L127.22 60.86 L127.33 80.36 L127.44 58.95 L127.55 88.44 L127.66 61.72 L127.77 80.2 L127.88 57 L127.99 83.77 L128.1 60.93 L128.21 90.8 L128.32 59.74 L128.43 91.04 L128.54 45.27 L128.65 92.36 L128.76 57.61 L128.87 87.82 L128.98 43.18 L129.09 92.96 L129.2 47.3 L129.31 90.38 L129.42 21.5 L129.53 99.3 L129.64 34.59 L129.75 84.04 L129.86 27.38 L129.97 80.84 L130.08 51.61 L130.19 89.48 L130.3 44.2 L130.41 80.32 L130.52 62.18 L130.63 77.19 L130.74 62.02 L130.85 79.43 L130.96 63.38 L131.07 79.09 L131.18 62.7 L131.29 81.49 L131.4 64.3 L131.51 82.66 L131.62 63.51 L131.73 82.52 L131.84 62.84 L131.95 76.75 L132.06 63.72 L132.17 78.99 L132.28 64.05 L132.39 77.49 L132.5 63.9 L132.61 76.73 L132.72 62.25 L132.83 77.46 L132.94 62.94 L133.05 81.06 L133.16 56.79 L133.27 80.71 L133.38 62.44 L133.49 83.54 L133.6 61.27 L133.71 81.34 L133.82 62.97 L133.93 88 L134.04 63.06 L134.15 76.5 L134.26 63.5 L134.37 78.82 L134.48 63.45 L134.59 80.97 L134.7 57.91 L134.81 79.3 L134.92 52 L135.03 79.18 L135.14 61.11 L135.25 79.16 L135.36 63.32 L135.47 79.16 L135.58 59.59 L135.69 76.9 L135.8 61.95 L135.91 77.88 L136.02 61.81 L136.13 82.11 L136.24 61.95 L136.35 77.97 L136.46 64.12 L136.57 78.93 L136.68 61.91 L136.79 78.66 L136.9 61.61 L137.01 77.81 L137.12 63.62 L137.23 79.08 L137.34 60.91 L137.45 76.71 L137.56 59 L137.67 78.05 L137.78 62.83 L137.89 76.77 L138 38.62 L138.11 78.81 L138.22 47.69 L138.33 78.27 L138.44 30.4 L138.55 79.03 L138.66 46.18 L138.77 80.65 L138.88 57.59 L138.99 77.2 L139.1 50.76 L139.21 81.95 L139.32 37.94 L139.43 79.78 L139.54 49.88 L139.65 80.95 L139.76 48.6 L139.87 81.91 L139.98 37.37 L140.09 78.33 L140.2 36 L140.31 77.54 L140.42 46.21 L140.53 78.35 L140.64 26.3 L140.75 98 L140.86 54.46 L140.97 77.87 L141.08 58.4 L141.19 84.4 L141.3 12.5 L141.41 84.05 L141.52 25.92 L141.63 77.83 L141.74 59.13 L141.85 78.11 L141.96 59.57 L142.07 76.89 L142.18 52.28 L142.29 79.03 L142.4 63.9 L142.51 80.36 L142.62 62.31 L142.73 77.7 L142.84 62.99 L142.95 79.34 L143.06 64.25 L143.17 79.03 L143.28 62.55 L143.39 79.12 L143.5 60.45 L143.61 78.09 L143.72 61.58 L143.83 78.99 L143.94 59.23 L144.05 80.35 L144.16 63.33 L144.27 80.92 L144.38 61.87 L144.49 77.93 L144.6 60.11 L144.71 79.59 L144.82 64.33 L144.93 80.08 L145.04 50 L145.15 82.44 L145.26 57.94 L145.37 76.48 L145.48 61.84 L145.59 77.86 L145.7 61.9 L145.81 78.71 L145.92 55.43 L146.03 90 L146.14 63.54 L146.25 80.45 L146.36 63.58 L146.47 77.61 L146.58 60.57 L146.69 78.01 L146.8 63.04 L146.91 79.23 L147.02 62.62 L147.13 78.7 L147.24 63 L147.35 76.84 L147.46 61.95 L147.57 79.71 L147.68 63.71 L147.79 79.64 L147.9 55.61 L148.01 76.89 L148.12 59.45 L148.23 77 L148.34 47.4 L148.45 78.27 L148.56 63.37 L148.67 79.13 L148.78 63.23 L148.89 76.92 L149 52.7 L149.11 79.28 L149.22 57.6 L149.33 77.34 L149.44 59.94 L149.55 79.29 L149.66 59.47 L149.77 79.93 L149.88 59.93 L149.99 82.08 L150.1 52.4 L150.21 86.96 L150.32 57.1 L150.43 85.01 L150.54 46.51 L150.65 85.94 L150.76 47.67 L150.87 103.35 L150.98 53.95 L151.09 98.52 L151.2 51.12 L151.31 98.26 L151.42 13.4 L151.53 120.8 L151.64 34.94 L151.75 117.72 L151.86 27.51 L151.97 94.53 L152.08 56.16 L152.19 91.43 L152.3 61.38 L152.41 86.44 L152.52 40 L152.63 85.29 L152.74 53.23 L152.85 81.34 L152.96 61.72 L153.07 81.33 L153.18 57.6 L153.29 78.63 L153.4 59.66 L153.51 79.86 L153.62 61.28 L153.73 79.22 L153.84 63.01 L153.95 80.35 L154.06 63 L154.17 77.4 L154.28 59.66 L154.39 82.34 L154.5 63.16 L154.61 81.98 L154.72 63.14 L154.83 78.95 L154.94 55.13 L155.05 79.29 L155.16 61.54 L155.27 77.51 L155.38 62.35 L155.49 79.34 L155.6 57.59 L155.71 77.04 L155.82 56.41 L155.93 81.35 L156.04 48 L156.15 77.37 L156.26 56.99 L156.37 77.93 L156.48 63.78 L156.59 77.25 L156.7 56.11 L156.81 79.51 L156.92 63.07 L157.03 92 L157.14 60.99 L157.25 80 L157.36 58.64 L157.47 89.77 L157.58 58.61 L157.69 78.7 L157.8 57.65 L157.91 84.48 L158.02 60.78 L158.13 83.07 L158.24 50.79 L158.35 82.59 L158.46 60.07 L158.57 85.89 L158.68 58.26 L158.79 82.86 L158.9 38.5 L159.01 87.98 L159.12 58.36 L159.23 84.76 L159.34 44.44 L159.45 91.41 L159.56 51.28 L159.67 88.45 L159.78 48.51 L159.89 89.29 L160 43.22 L160.11 86.56 L160.22 48.1 L160.33 82.92 L160.44 44.69 L160.55 96.12 L160.66 50.62 L160.77 82.04 L160.88 50.84 L160.99 82.3 L161.1 33 L161.21 81.96 L161.32 50.17 L161.43 109.5 L161.54 51.07 L161.65 93.23 L161.76 55.2 L161.87 87.26 L161.98 58.92 L162.09 79.4 L162.2 14 L162.31 78.68 L162.42 35.63 L162.53 77.59 L162.64 35.8 L162.75 79.43 L162.86 61.31 L162.97 78.87 L163.08 62.07 L163.19 79.28 L163.3 63.4 L163.41 78.4 L163.52 60.02 L163.63 82.5 L163.74 61.59 L163.85 76.6 L163.96 61.7 L164.07 81.82 L164.18 63.83 L164.29 77.01 L164.4 61.25 L164.51 77.58 L164.62 59.93 L164.73 76.74 L164.84 61.59 L164.95 81.45 L165.06 63.16 L165.17 81.64 L165.28 58.98 L165.39 79.96 L165.5 59.28 L165.61 76.55 L165.72 63.38 L165.83 83.04 L165.94 63.02 L166.05 76.95 L166.16 61.12 L166.27 79.1 L166.38 58.89 L166.49 81.27 L166.6 58.71 L166.71 78.74 L166.82 62.24 L166.93 76.67 L167.04 61.9 L167.15 79.11 L167.26 64.12 L167.37 85.63 L167.48 62.59 L167.59 76.84 L167.7 62.99 L167.81 78.46 L167.92 63.44 L168.03 88 L168.14 61.54 L168.25 83.97 L168.36 46.5 L168.47 77.7 L168.58 62.31 L168.69 78.57 L168.8 63.98 L168.91 79.01 L169.02 52.65 L169.13 80.45 L169.24 58.07 L169.35 78.01 L169.46 62.86 L169.57 82.96 L169.68 63.16 L169.79 76.97 L169.9 60.16 L170.01 80.01 L170.12 62.09 L170.23 77.7 L170.34 61.18 L170.45 78.13 L170.56 62.28 L170.67 80.52 L170.78 64.01 L170.89 77.74 L171 63.9 L171.11 78.58 L171.22 64.52 L171.33 79.41 L171.44 58.81 L171.55 79.15 L171.66 63.2 L171.77 77.93 L171.88 64.05 L171.99 77.87 L172.1 62.2 L172.21 77.16 L172.32 62.55 L172.43 79.08 L172.54 63.83 L172.65 77.3 L172.76 60.4 L172.87 77.21 L172.98 59.96 L173.09 78.44 L173.2 64.13 L173.31 98.4 L173.42 56.13 L173.53 79.19 L173.64 58.6 L173.75 86.55 L173.86 60.05 L173.97 77.23 L174.08 56.58 L174.19 77.51 L174.3 62.43 L174.41 84.62 L174.52 60.66 L174.63 79.16 L174.74 62.98 L174.85 78.33 L174.96 53 L175.07 78.1 L175.18 64.54 L175.29 79.06 L175.4 62.05 L175.51 82.25 L175.62 61.81 L175.73 79.78 L175.84 62.95 L175.95 78.25 L176.06 56.86 L176.17 78.94 L176.28 62.61 L176.39 78.62 L176.5 62.85 L176.61 80.26 L176.72 62.62 L176.83 78.13 L176.94 59.39 L177.05 78.71 L177.16 61.44 L177.27 80.22 L177.38 63.87 L177.49 77.25 L177.6 62.83 L177.71 79.17 L177.82 63.71 L177.93 76.53 L178.04 63.27 L178.15 83.5 L178.26 62.73 L178.37 76.94 L178.48 61.93 L178.59 82.15 L178.7 56.94 L178.81 78.87 L178.92 61.59 L179.03 78.61 L179.14 60.82 L179.25 82.65 L179.36 57.66 L179.47 78.02 L179.58 61.32 L179.69 78.78 L179.8 64.28 L179.91 86 L180.02 63.11 L180.13 78.76 L180.24 61.87 L180.35 77.5 L180.46 62.93 L180.57 81.39 L180.68 58.95 L180.79 83.19 L180.9 63.02 L181.01 79.37 L181.12 61.74 L181.23 80.51 L181.34 61.14 L181.45 82.21 L181.56 60.47 L181.67 79.63 L181.78 58.81 L181.89 77.47 L182 61.61 L182.11 79.44 L182.22 63.06 L182.33 80.43 L182.44 64.54 L182.55 78.06 L182.66 61.29 L182.77 76.54 L182.88 59.92 L182.99 79.33 L183.1 59.19 L183.21 79.7 L183.32 62.04 L183.43 76.77 L183.54 61.81 L183.65 79.65 L183.76 62.83 L183.87 78.44 L183.98 61.81 L184.09 77.5 L184.2 60.14 L184.31 80.07 L184.42 63.34" fill="none" stroke="#000" stroke-width="0.4"/>
<rect x="27.8" y="134.8" width="6.5" height="1.2" fill="#222"/>
<rect x="40.3" y="134.8" width="6.5" height="1.2" fill="#222"/>
<rect x="50.2" y="134.8" width="6.5" height="1.2" fill="#222"/>
<rect x="62" y="134.8" width="6.5" height="1.2" fill="#222"/>
<rect x="75.2" y="134.8" width="6.5" height="1.2" fill="#222"/>
<rect x="115.2" y="134.8" width="6.6" height="1.2" fill="#222"/>
<rect x="127.2" y="134.8" width="6.6" height="1.2" fill="#222"/>
<rect x="138.4" y="134.8" width="6.6" height="1.2" fill="#222"/>
<rect x="147.9" y="134.8" width="6.6" height="1.2" fill="#222"/>
<rect x="159.2" y="134.8" width="6.6" height="1.2" fill="#222"/>
<rect x="218.1" y="111.8" width="20.8" height="1.2" fill="#444"/>
<rect x="24.2" y="313.3" width="20.5" height="1.2" fill="#444"/>
<defs><filter id="gs" x="0" y="0" width="685" height="783" filterUnits="userSpaceOnUse"><feColorMatrix type="saturate" values="0"/></filter></defs>
<path d="M41.1 393.3 V531.3 H313.4" fill="none" stroke="#111" stroke-width="1.7"/>
<path d="M38.800000000000004 531.30 H41.1" stroke="#111" stroke-width="1.2"/>
<path d="M38.800000000000004 508.30 H41.1" stroke="#111" stroke-width="1.2"/>
<path d="M38.800000000000004 485.30 H41.1" stroke="#111" stroke-width="1.2"/>
<path d="M38.800000000000004 462.30 H41.1" stroke="#111" stroke-width="1.2"/>
<path d="M38.800000000000004 439.30 H41.1" stroke="#111" stroke-width="1.2"/>
<path d="M38.800000000000004 416.30 H41.1" stroke="#111" stroke-width="1.2"/>
<path d="M38.800000000000004 393.30 H41.1" stroke="#111" stroke-width="1.2"/>
<path d="M80.00 531.3 V533.8" stroke="#111" stroke-width="1.2"/>
<path d="M118.90 531.3 V533.8" stroke="#111" stroke-width="1.2"/>
<path d="M157.80 531.3 V533.8" stroke="#111" stroke-width="1.2"/>
<path d="M196.70 531.3 V533.8" stroke="#111" stroke-width="1.2"/>
<path d="M235.60 531.3 V533.8" stroke="#111" stroke-width="1.2"/>
<path d="M274.50 531.3 V533.8" stroke="#111" stroke-width="1.2"/>
<path d="M313.40 531.3 V533.8" stroke="#111" stroke-width="1.2"/>
<rect x="50.80" y="454.65" width="8.40" height="76.65" fill="#4F81BD" stroke="#111" stroke-width="1.5"/>
<path d="M55.00 442.4 V465.7 M53.20 442.4 H56.80 M53.20 465.7 H56.80" stroke="#000" stroke-width="1.5"/>
<rect x="61.90" y="465.15" width="8.40" height="66.15" fill="#C0504D" stroke="#111" stroke-width="1.5"/>
<path d="M66.10 458.5 V472.3 M64.30 458.5 H67.90 M64.30 472.3 H67.90" stroke="#000" stroke-width="1.5"/>
<rect x="89.70" y="440.05" width="8.40" height="91.25" fill="#4F81BD" stroke="#111" stroke-width="1.5"/>
<path d="M93.90 420.8 V458.5 M92.10 420.8 H95.70 M92.10 458.5 H95.70" stroke="#000" stroke-width="1.5"/>
<rect x="100.80" y="450.65" width="8.40" height="80.65" fill="#C0504D" stroke="#111" stroke-width="1.5"/>
<path d="M105.00 439.4 V460 M103.20 439.4 H106.80 M103.20 460 H106.80" stroke="#000" stroke-width="1.5"/>
<rect x="128.60" y="458.85" width="8.40" height="72.45" fill="#4F81BD" stroke="#111" stroke-width="1.5"/>
<path d="M132.80 442.6 V474.2 M131.00 442.6 H134.60 M131.00 474.2 H134.60" stroke="#000" stroke-width="1.5"/>
<rect x="139.70" y="460.35" width="8.40" height="70.95" fill="#C0504D" stroke="#111" stroke-width="1.5"/>
<path d="M143.90 433.2 V487.1 M142.10 433.2 H145.70 M142.10 487.1 H145.70" stroke="#000" stroke-width="1.5"/>
<rect x="167.50" y="500.95" width="8.40" height="30.35" fill="#4F81BD" stroke="#111" stroke-width="1.5"/>
<path d="M171.70 492.8 V507.2 M169.90 492.8 H173.50 M169.90 507.2 H173.50" stroke="#000" stroke-width="1.5"/>
<rect x="178.60" y="512.15" width="8.40" height="19.15" fill="#C0504D" stroke="#111" stroke-width="1.5"/>
<path d="M182.80 505.2 V518.8 M181.00 505.2 H184.60 M181.00 518.8 H184.60" stroke="#000" stroke-width="1.5"/>
<rect x="206.40" y="496.05" width="8.40" height="35.25" fill="#4F81BD" stroke="#111" stroke-width="1.5"/>
<path d="M210.60 492 V497.7 M208.80 492 H212.40 M208.80 497.7 H212.40" stroke="#000" stroke-width="1.5"/>
<rect x="217.50" y="507.15" width="8.40" height="24.15" fill="#C0504D" stroke="#111" stroke-width="1.5"/>
<path d="M221.70 497.3 V516.9 M219.90 497.3 H223.50 M219.90 516.9 H223.50" stroke="#000" stroke-width="1.5"/>
<rect x="245.30" y="434.45" width="8.40" height="96.85" fill="#4F81BD" stroke="#111" stroke-width="1.5"/>
<path d="M249.50 416.6 V452.3 M247.70 416.6 H251.30 M247.70 452.3 H251.30" stroke="#000" stroke-width="1.5"/>
<rect x="256.40" y="432.25" width="8.40" height="99.05" fill="#C0504D" stroke="#111" stroke-width="1.5"/>
<path d="M260.60 410.4 V453 M258.80 410.4 H262.40 M258.80 453 H262.40" stroke="#000" stroke-width="1.5"/>
<rect x="284.20" y="479.85" width="8.40" height="51.45" fill="#4F81BD" stroke="#111" stroke-width="1.5"/>
<path d="M288.40 465.5 V493.5 M286.60 465.5 H290.20 M286.60 493.5 H290.20" stroke="#000" stroke-width="1.5"/>
<rect x="295.30" y="478.15" width="8.40" height="53.15" fill="#C0504D" stroke="#111" stroke-width="1.5"/>
<path d="M299.50 468.5 V487.8 M297.70 468.5 H301.30 M297.70 487.8 H301.30" stroke="#000" stroke-width="1.5"/>
<rect x="255.05" y="378.85" width="4.6" height="4.6" fill="#4F81BD" stroke="#000" stroke-width="1.5"/>
<rect x="255.05" y="389.95" width="4.6" height="4.6" fill="#C0504D" stroke="#000" stroke-width="1.5"/>
<path d="M387.6 384.1 V536.4 H685" fill="none" stroke="#111" stroke-width="1.7"/>
<path d="M385.3 536.40 H387.6" stroke="#111" stroke-width="1.2"/>
<path d="M385.3 511.02 H387.6" stroke="#111" stroke-width="1.2"/>
<path d="M385.3 485.63 H387.6" stroke="#111" stroke-width="1.2"/>
<path d="M385.3 460.25 H387.6" stroke="#111" stroke-width="1.2"/>
<path d="M385.3 434.87 H387.6" stroke="#111" stroke-width="1.2"/>
<path d="M385.3 409.48 H387.6" stroke="#111" stroke-width="1.2"/>
<path d="M385.3 384.10 H387.6" stroke="#111" stroke-width="1.2"/>
<path d="M447.15 536.4 V538.9" stroke="#111" stroke-width="1.2"/>
<path d="M506.70 536.4 V538.9" stroke="#111" stroke-width="1.2"/>
<path d="M566.25 536.4 V538.9" stroke="#111" stroke-width="1.2"/>
<path d="M625.80 536.4 V538.9" stroke="#111" stroke-width="1.2"/>
<path d="M685.35 536.4 V538.9" stroke="#111" stroke-width="1.2"/>
<rect x="402.62" y="463.05" width="12.90" height="73.35" fill="#4F81BD" stroke="#111" stroke-width="1.5"/>
<path d="M409.07 445.6 V479.9 M407.27 445.6 H410.88 M407.27 479.9 H410.88" stroke="#000" stroke-width="1.5"/>
<rect x="419.23" y="464.05" width="12.90" height="72.35" fill="#C0504D" stroke="#111" stroke-width="1.5"/>
<path d="M425.68 456.3 V471.7 M423.88 456.3 H427.48 M423.88 471.7 H427.48" stroke="#000" stroke-width="1.5"/>
<rect x="462.18" y="486.85" width="12.90" height="49.55" fill="#4F81BD" stroke="#111" stroke-width="1.5"/>
<path d="M468.62 465.5 V506.9 M466.82 465.5 H470.43 M466.82 506.9 H470.43" stroke="#000" stroke-width="1.5"/>
<rect x="478.78" y="464.95" width="12.90" height="71.45" fill="#C0504D" stroke="#111" stroke-width="1.5"/>
<path d="M485.23 447.4 V481.6 M483.43 447.4 H487.03 M483.43 481.6 H487.03" stroke="#000" stroke-width="1.5"/>
<rect x="521.73" y="436.35" width="12.90" height="100.05" fill="#4F81BD" stroke="#111" stroke-width="1.5"/>
<path d="M528.17 422.1 V449.9 M526.38 422.1 H529.97 M526.38 449.9 H529.97" stroke="#000" stroke-width="1.5"/>
<rect x="538.33" y="427.45" width="12.90" height="108.95" fill="#C0504D" stroke="#111" stroke-width="1.5"/>
<path d="M544.78 413.2 V439.7 M542.98 413.2 H546.58 M542.98 439.7 H546.58" stroke="#000" stroke-width="1.5"/>
<rect x="581.27" y="470.95" width="12.90" height="65.45" fill="#4F81BD" stroke="#111" stroke-width="1.5"/>
<path d="M587.72 463.4 V476.1 M585.92 463.4 H589.52 M585.92 476.1 H589.52" stroke="#000" stroke-width="1.5"/>
<rect x="597.88" y="443.65" width="12.90" height="92.75" fill="#C0504D" stroke="#111" stroke-width="1.5"/>
<path d="M604.33 429.7 V455.1 M602.53 429.7 H606.12 M602.53 455.1 H606.12" stroke="#000" stroke-width="1.5"/>
<rect x="640.83" y="513.35" width="12.90" height="23.05" fill="#4F81BD" stroke="#111" stroke-width="1.5"/>
<path d="M647.28 495.6 V528.8 M645.48 495.6 H649.08 M645.48 528.8 H649.08" stroke="#000" stroke-width="1.5"/>
<rect x="657.43" y="494.95" width="12.90" height="41.45" fill="#C0504D" stroke="#111" stroke-width="1.5"/>
<path d="M663.88 484.8 V503.7 M662.08 484.8 H665.67 M662.08 503.7 H665.67" stroke="#000" stroke-width="1.5"/>
<rect x="619.35" y="378.95" width="4.6" height="4.6" fill="#4F81BD" stroke="#000" stroke-width="1.5"/>
<rect x="619.35" y="390.05" width="4.6" height="4.6" fill="#C0504D" stroke="#000" stroke-width="1.5"/>
<path d="M42.8 618.4 V770.4 H313.4" fill="none" stroke="#111" stroke-width="1.7"/>
<path d="M40.5 770.40 H42.8" stroke="#111" stroke-width="1.2"/>
<path d="M40.5 745.07 H42.8" stroke="#111" stroke-width="1.2"/>
<path d="M40.5 719.73 H42.8" stroke="#111" stroke-width="1.2"/>
<path d="M40.5 694.40 H42.8" stroke="#111" stroke-width="1.2"/>
<path d="M40.5 669.07 H42.8" stroke="#111" stroke-width="1.2"/>
<path d="M40.5 643.73 H42.8" stroke="#111" stroke-width="1.2"/>
<path d="M40.5 618.40 H42.8" stroke="#111" stroke-width="1.2"/>
<path d="M96.90 770.4 V772.9" stroke="#111" stroke-width="1.2"/>
<path d="M151.00 770.4 V772.9" stroke="#111" stroke-width="1.2"/>
<path d="M205.10 770.4 V772.9" stroke="#111" stroke-width="1.2"/>
<path d="M259.20 770.4 V772.9" stroke="#111" stroke-width="1.2"/>
<path d="M313.30 770.4 V772.9" stroke="#111" stroke-width="1.2"/>
<rect x="56.20" y="757.75" width="11.90" height="12.65" fill="#4F81BD" stroke="#111" stroke-width="1.5"/>
<path d="M62.15 753.1 V761.3 M60.35 753.1 H63.95 M60.35 761.3 H63.95" stroke="#000" stroke-width="1.5"/>
<rect x="71.60" y="744.65" width="11.90" height="25.75" fill="#C0504D" stroke="#111" stroke-width="1.5"/>
<path d="M77.55 736.9 V751.8 M75.75 736.9 H79.35 M75.75 751.8 H79.35" stroke="#000" stroke-width="1.5"/>
<rect x="110.30" y="739.15" width="11.90" height="31.25" fill="#4F81BD" stroke="#111" stroke-width="1.5"/>
<path d="M116.25 737.2 V739.7 M114.45 737.2 H118.05 M114.45 739.7 H118.05" stroke="#000" stroke-width="1.5"/>
<rect x="125.70" y="733.45" width="11.90" height="36.95" fill="#C0504D" stroke="#111" stroke-width="1.5"/>
<path d="M131.65 725.3 V741.4 M129.85 725.3 H133.45 M129.85 741.4 H133.45" stroke="#000" stroke-width="1.5"/>
<rect x="164.40" y="697.95" width="11.90" height="72.45" fill="#4F81BD" stroke="#111" stroke-width="1.5"/>
<path d="M170.35 685.9 V709 M168.55 685.9 H172.15 M168.55 709 H172.15" stroke="#000" stroke-width="1.5"/>
<rect x="179.80" y="681.35" width="11.90" height="89.05" fill="#C0504D" stroke="#111" stroke-width="1.5"/>
<path d="M185.75 668.8 V692.5 M183.95 668.8 H187.55 M183.95 692.5 H187.55" stroke="#000" stroke-width="1.5"/>
<rect x="218.50" y="684.85" width="11.90" height="85.55" fill="#4F81BD" stroke="#111" stroke-width="1.5"/>
<path d="M224.45 668.8 V699.8 M222.65 668.8 H226.25 M222.65 699.8 H226.25" stroke="#000" stroke-width="1.5"/>
<rect x="233.90" y="676.95" width="11.90" height="93.45" fill="#C0504D" stroke="#111" stroke-width="1.5"/>
<path d="M239.85 668.8 V684.1 M238.05 668.8 H241.65 M238.05 684.1 H241.65" stroke="#000" stroke-width="1.5"/>
<rect x="272.60" y="677.95" width="11.90" height="92.45" fill="#4F81BD" stroke="#111" stroke-width="1.5"/>
<path d="M278.55 662.3 V693 M276.75 662.3 H280.35 M276.75 693 H280.35" stroke="#000" stroke-width="1.5"/>
<rect x="288.00" y="653.85" width="11.90" height="116.55" fill="#C0504D" stroke="#111" stroke-width="1.5"/>
<path d="M293.95 648.3 V658.3 M292.15 648.3 H295.75 M292.15 658.3 H295.75" stroke="#000" stroke-width="1.5"/>
<rect x="244.65" y="607.95" width="4.6" height="4.6" fill="#4F81BD" stroke="#000" stroke-width="1.5"/>
<rect x="244.65" y="619.55" width="4.6" height="4.6" fill="#C0504D" stroke="#000" stroke-width="1.5"/>
<g filter="url(#gs)">
<text x="3.2" y="11" font-size="14" >A</text>
<text x="239.2" y="14.8" font-size="14" >B</text>
<text x="3.6" y="180" font-size="14" >C</text>
<text x="368.2" y="183.2" font-size="14" >D</text>
<text x="4" y="378.8" font-size="14" >E</text>
<text x="334.8" y="378.8" font-size="14" >F</text>
<text x="9.0" y="601.3" font-size="15" >G</text>
<text x="28.3" y="152.8" font-size="9.0" font-style="italic" >Phox2b-WT;</text>
<text x="28.3" y="163.3" font-size="9.0" font-style="italic">p75<tspan font-size="5.2" dy="-2.4">fx/fx</tspan></text>
<text x="107" y="152.8" font-size="9.0" font-style="italic" >Phox2b-Cre;</text>
<text x="107" y="163.3" font-size="9.0" font-style="italic">p75<tspan font-size="5.2" dy="-2.4">fx/fx</tspan></text>
<text x="201.2" y="38.0" font-size="9.0" font-style="italic" >Phox2b-WT;</text>
<text x="201.2" y="48.7" font-size="9.0" font-style="italic">p75<tspan font-size="5.2" dy="-2.4">fx/fx</tspan></text>
<text x="201.2" y="78.8" font-size="9.0" font-style="italic" >Phox2b-Cre;</text>
<text x="201.2" y="89.3" font-size="9.0" font-style="italic">p75<tspan font-size="5.2" dy="-2.4">fx/fx</tspan></text>
<text x="223.2" y="128.9" font-size="9.4" >10s</text>
<text x="270.8" y="151.2" font-size="8.3" >0.5M NH<tspan font-size="5.5" dy="1.6">4</tspan><tspan dy="-1.6">Cl</tspan></text>
<text x="326.7" y="151.2" font-size="8.3" >0.1N HCl</text>
<text x="377.8" y="151.3" font-size="8.3" >1M sucrose</text>
<text x="443.9" y="152.5" font-size="8.3" >0.04M QuHCl</text>
<text x="502.8" y="151.5" font-size="8.3" >0.5M NaCl</text>
<text x="551.7" y="152.9" font-size="8.3" >0.1M Citric acid</text>
<text x="622.5" y="152.9" font-size="8.3" >0.5M MSG</text>
<text x="0.9" y="212.6" font-size="9.0" font-style="italic" >Phox2b-WT;</text>
<text x="0.9" y="223.3" font-size="9.0" font-style="italic">p75<tspan font-size="5.2" dy="-2.4">fx/fx</tspan></text>
<text x="1.7" y="279.6" font-size="9.0" font-style="italic" >Phox2b-Cre;</text>
<text x="1.7" y="290.1" font-size="9.0" font-style="italic">p75<tspan font-size="5.2" dy="-2.4">fx/fx</tspan></text>
<text x="27.6" y="326" font-size="9.4" >10s</text>
<text x="64.9" y="329.1" font-size="8.3" >0.5M NaCl</text>
<text x="118.8" y="329.1" font-size="8.3" >0.5M KCl</text>
<text x="163.5" y="329.2" font-size="8.3" >0.5M NH<tspan font-size="5.5" dy="1.6">4</tspan><tspan dy="-1.6">Cl</tspan></text>
<text x="223.2" y="329.2" font-size="8.3" >0.5M CaCl<tspan font-size="5.5" dy="1.6">2</tspan></text>
<text x="284.6" y="329.2" font-size="8.3" >0.5M MgCl<tspan font-size="5.5" dy="1.6">2</tspan></text>
<text x="406.8" y="328.9" font-size="8.3" >0.05M NaCl</text>
<text x="464.6" y="327.7" font-size="8.3" >0.1M NaCl</text>
<text x="514.4" y="327.5" font-size="8.3" >0.25M NaCl</text>
<text x="568.7" y="327.5" font-size="8.3" >0.5M NaCl</text>
<text x="619.5" y="328.6" font-size="8.3" >1M NaCl</text>
<text x="37.8" y="534.10" font-size="7.8" text-anchor="end">0</text>
<text x="37.8" y="511.10" font-size="7.8" text-anchor="end">0.5</text>
<text x="37.8" y="488.10" font-size="7.8" text-anchor="end">1</text>
<text x="37.8" y="465.10" font-size="7.8" text-anchor="end">1.5</text>
<text x="37.8" y="442.10" font-size="7.8" text-anchor="end">2</text>
<text x="37.8" y="419.10" font-size="7.8" text-anchor="end">2.5</text>
<text x="37.8" y="396.10" font-size="7.8" text-anchor="end">3</text>
<text transform="translate(23.2,464.3) rotate(-90)" font-size="9.7" text-anchor="middle">Relative response to 0.1M NaCl</text>
<text x="264.1" y="383.1" font-size="5.6" font-style="italic" stroke="#111" stroke-width="0.18">Phox2b-WT;p75<tspan font-size="3.5" dy="-1.5">fx/fx</tspan></text>
<text x="264.1" y="394.2" font-size="5.6" font-style="italic" stroke="#111" stroke-width="0.18">Phox2b-Cre;p75<tspan font-size="3.5" dy="-1.5">fx/fx</tspan></text>
<text transform="translate(70.3,542.1) rotate(-45)" font-size="8.2" text-anchor="end">0.5M NaCl</text>
<text transform="translate(106.2,539.8) rotate(-45)" font-size="8.2" text-anchor="end">0.5M NH<tspan font-size='5.5' dy='1.6'>4</tspan><tspan dy='-1.6'>Cl</tspan></text>
<text transform="translate(142.4,542.2) rotate(-45)" font-size="8.2" text-anchor="end">0.1N HCl</text>
<text transform="translate(180.2,538.7) rotate(-45)" font-size="8.2" text-anchor="end">1M sucrose</text>
<text transform="translate(218.3,539.1) rotate(-45)" font-size="8.2" text-anchor="end">0.04M QuHCl</text>
<text transform="translate(254.6,538.8) rotate(-45)" font-size="8.2" text-anchor="end">0.1M Citric acid</text>
<text transform="translate(294,538.7) rotate(-45)" font-size="8.2" text-anchor="end">0.5M MSG</text>
<text x="382.6" y="539.20" font-size="7.8" text-anchor="end">0</text>
<text x="382.6" y="513.82" font-size="7.8" text-anchor="end">0.5</text>
<text x="382.6" y="488.43" font-size="7.8" text-anchor="end">1</text>
<text x="382.6" y="463.05" font-size="7.8" text-anchor="end">1.5</text>
<text x="382.6" y="437.67" font-size="7.8" text-anchor="end">2</text>
<text x="382.6" y="412.28" font-size="7.8" text-anchor="end">2.5</text>
<text x="382.6" y="386.90" font-size="7.8" text-anchor="end">3</text>
<text transform="translate(367.6,470.4) rotate(-90)" font-size="9.7" text-anchor="middle">Relative response to 0.1M NaCl</text>
<text x="628.4" y="383.2" font-size="5.6" font-style="italic" stroke="#111" stroke-width="0.18">Phox2b-WT;p75<tspan font-size="3.5" dy="-1.5">fx/fx</tspan></text>
<text x="628.4" y="394.3" font-size="5.6" font-style="italic" stroke="#111" stroke-width="0.18">Phox2b-Cre;p75<tspan font-size="3.5" dy="-1.5">fx/fx</tspan></text>
<text x="401.6" y="550.8" font-size="8.3" >0.5M NaCl</text>
<text x="460.7" y="550.8" font-size="8.3" >0.5M KCl</text>
<text x="513.7" y="551.6" font-size="8.3" >0.5M NH<tspan font-size="5.5" dy="1.6">4</tspan><tspan dy="-1.6">Cl</tspan></text>
<text x="574.8" y="553" font-size="8.3" >0.5M CaCl<tspan font-size="5.5" dy="1.6">2</tspan></text>
<text x="635.3" y="553" font-size="8.3" >0.5M MgCl<tspan font-size="5.5" dy="1.6">2</tspan></text>
<text x="37.4" y="773.20" font-size="7.8" text-anchor="end">0</text>
<text x="37.4" y="747.87" font-size="7.8" text-anchor="end">0.5</text>
<text x="37.4" y="722.53" font-size="7.8" text-anchor="end">1</text>
<text x="37.4" y="697.20" font-size="7.8" text-anchor="end">1.5</text>
<text x="37.4" y="671.87" font-size="7.8" text-anchor="end">2</text>
<text x="37.4" y="646.53" font-size="7.8" text-anchor="end">2.5</text>
<text x="37.4" y="621.20" font-size="7.8" text-anchor="end">3</text>
<text transform="translate(23.6,701.7) rotate(-90)" font-size="9.95" text-anchor="middle">Relative response to 0.1M NaCl</text>
<text x="253.70000000000002" y="612.2" font-size="5.6" font-style="italic" stroke="#111" stroke-width="0.18">Phox2b-WT;p75<tspan font-size="3.5" dy="-1.5">fx/fx</tspan></text>
<text x="253.70000000000002" y="623.8" font-size="5.6" font-style="italic" stroke="#111" stroke-width="0.18">Phox2b-Cre;p75<tspan font-size="3.5" dy="-1.5">fx/fx</tspan></text>
<text x="48.9" y="781.2" font-size="8.3" >0.05M NaCl</text>
<text x="104" y="781.2" font-size="8.3" >0.1M NaCl</text>
<text x="159.7" y="781.8" font-size="8.3" >0.25M NaCl</text>
<text x="212.8" y="781.8" font-size="8.3" >0.5M NaCl</text>
<text x="266.6" y="781.8" font-size="8.3" >1M NaCl</text>
</g>
</svg>
</body></html>
